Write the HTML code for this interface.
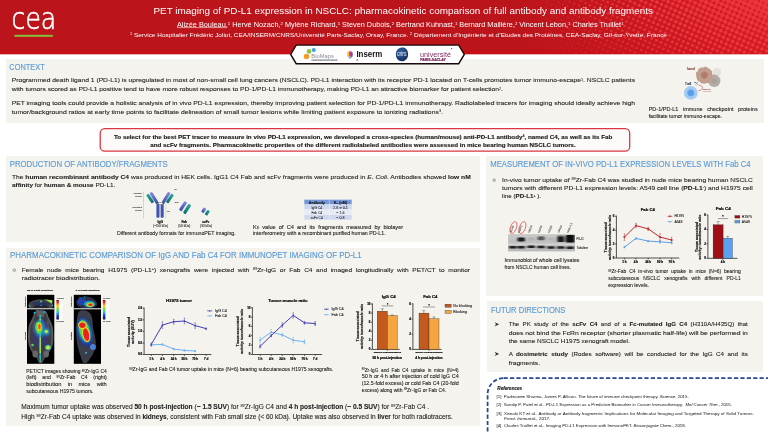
<!DOCTYPE html>
<html lang="en"><head><meta charset="utf-8">
<title>PET imaging of PD-L1 expression in NSCLC</title>
<style>
html,body{margin:0;padding:0;background:#fff;}
body{width:768px;height:432px;overflow:hidden;position:relative;font-family:'Liberation Sans',sans-serif;}
#poster{position:absolute;left:0;top:0;width:768px;height:432px;overflow:hidden;background:#fff;}
.hdr{position:absolute;left:0;top:0;width:768px;height:53.8px;background:#bc141b;}
.hdrline{position:absolute;left:0;top:53.8px;width:768px;height:1.1px;background:linear-gradient(#dc7a80,#fbeaea);}
.box{position:absolute;background:#f4f3ee;}
svg{position:absolute;left:0;top:0;font-family:'Liberation Sans',sans-serif;}
</style></head><body>
<div id="poster">
<header class="hdr"></header><div class="hdrline"></div>
<section class="box" id="context" style="left:6.3px;top:58.8px;width:757.5px;height:63.8px"></section>
<section class="box" id="production" style="left:6.3px;top:156.3px;width:474.0px;height:85.7px"></section>
<section class="box" id="measurement" style="left:486.0px;top:156.1px;width:277.2px;height:139.5px"></section>
<section class="box" id="pk" style="left:6.3px;top:247.9px;width:474.0px;height:177.9px"></section>
<section class="box" id="futur" style="left:486.8px;top:300.9px;width:276.4px;height:70.7px"></section>
<svg width="768" height="432" viewBox="0 0 768 432">
<defs>
<linearGradient id="hglow" x1="520" y1="30" x2="768" y2="0" gradientUnits="userSpaceOnUse">
<stop offset="0" stop-color="#d81c24" stop-opacity="0"/><stop offset="1" stop-color="#d81c24" stop-opacity="0.85"/></linearGradient>
<clipPath id="hclip"><rect x="0" y="0" width="768" height="53.8"/></clipPath>
</defs>
<rect x="0" y="50.4" width="768" height="3.4" fill="#c60f16"/>
<rect x="0" y="0" width="768" height="53.8" fill="url(#hglow)"/>
<g fill="#eb343c" clip-path="url(#hclip)"><circle cx="511.3" cy="-2.4" r="0.25" opacity="0.35"/><circle cx="509.2" cy="2.1" r="0.21" opacity="0.34"/><circle cx="507.2" cy="6.7" r="0.16" opacity="0.33"/><circle cx="515.8" cy="-0.4" r="0.33" opacity="0.37"/><circle cx="513.8" cy="4.2" r="0.28" opacity="0.36"/><circle cx="511.8" cy="8.7" r="0.23" opacity="0.35"/><circle cx="509.7" cy="13.3" r="0.17" opacity="0.33"/><circle cx="522.4" cy="-2.9" r="0.43" opacity="0.41"/><circle cx="520.4" cy="1.6" r="0.39" opacity="0.39"/><circle cx="518.4" cy="6.2" r="0.35" opacity="0.38"/><circle cx="516.3" cy="10.8" r="0.30" opacity="0.37"/><circle cx="514.3" cy="15.3" r="0.24" opacity="0.35"/><circle cx="512.3" cy="19.9" r="0.17" opacity="0.33"/><circle cx="527.0" cy="-0.9" r="0.49" opacity="0.43"/><circle cx="525.0" cy="3.7" r="0.45" opacity="0.41"/><circle cx="522.9" cy="8.2" r="0.41" opacity="0.40"/><circle cx="520.9" cy="12.8" r="0.36" opacity="0.38"/><circle cx="518.9" cy="17.4" r="0.30" opacity="0.37"/><circle cx="516.8" cy="21.9" r="0.24" opacity="0.35"/><circle cx="514.8" cy="26.5" r="0.15" opacity="0.33"/><circle cx="531.6" cy="1.1" r="0.55" opacity="0.45"/><circle cx="529.5" cy="5.7" r="0.51" opacity="0.43"/><circle cx="527.5" cy="10.3" r="0.47" opacity="0.42"/><circle cx="525.5" cy="14.8" r="0.42" opacity="0.40"/><circle cx="523.4" cy="19.4" r="0.36" opacity="0.38"/><circle cx="521.4" cy="24.0" r="0.29" opacity="0.36"/><circle cx="519.4" cy="28.5" r="0.21" opacity="0.34"/><circle cx="538.2" cy="-1.4" r="0.64" opacity="0.48"/><circle cx="536.1" cy="3.2" r="0.60" opacity="0.47"/><circle cx="534.1" cy="7.7" r="0.56" opacity="0.45"/><circle cx="532.1" cy="12.3" r="0.52" opacity="0.44"/><circle cx="530.0" cy="16.9" r="0.47" opacity="0.42"/><circle cx="528.0" cy="21.4" r="0.41" opacity="0.40"/><circle cx="526.0" cy="26.0" r="0.34" opacity="0.38"/><circle cx="523.9" cy="30.6" r="0.27" opacity="0.36"/><circle cx="521.9" cy="35.1" r="0.18" opacity="0.33"/><circle cx="542.7" cy="0.6" r="0.69" opacity="0.50"/><circle cx="540.7" cy="5.2" r="0.65" opacity="0.49"/><circle cx="538.7" cy="9.8" r="0.62" opacity="0.47"/><circle cx="536.6" cy="14.3" r="0.57" opacity="0.46"/><circle cx="534.6" cy="18.9" r="0.52" opacity="0.44"/><circle cx="532.6" cy="23.5" r="0.46" opacity="0.42"/><circle cx="530.5" cy="28.0" r="0.39" opacity="0.39"/><circle cx="528.5" cy="32.6" r="0.32" opacity="0.37"/><circle cx="526.5" cy="37.2" r="0.23" opacity="0.35"/><circle cx="549.3" cy="-1.9" r="0.77" opacity="0.53"/><circle cx="547.3" cy="2.7" r="0.74" opacity="0.52"/><circle cx="545.3" cy="7.2" r="0.70" opacity="0.51"/><circle cx="543.2" cy="11.8" r="0.66" opacity="0.49"/><circle cx="541.2" cy="16.4" r="0.62" opacity="0.47"/><circle cx="539.2" cy="20.9" r="0.56" opacity="0.45"/><circle cx="537.1" cy="25.5" r="0.50" opacity="0.43"/><circle cx="535.1" cy="30.1" r="0.44" opacity="0.41"/><circle cx="533.1" cy="34.6" r="0.36" opacity="0.38"/><circle cx="531.0" cy="39.2" r="0.27" opacity="0.36"/><circle cx="529.0" cy="43.8" r="0.17" opacity="0.33"/><circle cx="553.9" cy="0.1" r="0.82" opacity="0.55"/><circle cx="551.9" cy="4.7" r="0.79" opacity="0.54"/><circle cx="549.8" cy="9.3" r="0.75" opacity="0.53"/><circle cx="547.8" cy="13.8" r="0.71" opacity="0.51"/><circle cx="545.8" cy="18.4" r="0.66" opacity="0.49"/><circle cx="543.7" cy="23.0" r="0.61" opacity="0.47"/><circle cx="541.7" cy="27.5" r="0.54" opacity="0.45"/><circle cx="539.7" cy="32.1" r="0.48" opacity="0.42"/><circle cx="537.6" cy="36.7" r="0.40" opacity="0.40"/><circle cx="535.6" cy="41.2" r="0.31" opacity="0.37"/><circle cx="533.6" cy="45.8" r="0.21" opacity="0.34"/><circle cx="560.5" cy="-2.4" r="0.90" opacity="0.59"/><circle cx="558.5" cy="2.2" r="0.87" opacity="0.57"/><circle cx="556.4" cy="6.7" r="0.84" opacity="0.56"/><circle cx="554.4" cy="11.3" r="0.80" opacity="0.54"/><circle cx="552.4" cy="15.9" r="0.75" opacity="0.53"/><circle cx="550.3" cy="20.4" r="0.70" opacity="0.51"/><circle cx="548.3" cy="25.0" r="0.65" opacity="0.48"/><circle cx="546.3" cy="29.6" r="0.58" opacity="0.46"/><circle cx="544.2" cy="34.1" r="0.51" opacity="0.44"/><circle cx="542.2" cy="38.7" r="0.44" opacity="0.41"/><circle cx="540.2" cy="43.3" r="0.35" opacity="0.38"/><circle cx="538.1" cy="47.8" r="0.25" opacity="0.35"/><circle cx="565.1" cy="-0.4" r="0.95" opacity="0.61"/><circle cx="563.0" cy="4.2" r="0.92" opacity="0.59"/><circle cx="561.0" cy="8.8" r="0.88" opacity="0.58"/><circle cx="559.0" cy="13.3" r="0.84" opacity="0.56"/><circle cx="556.9" cy="17.9" r="0.79" opacity="0.54"/><circle cx="554.9" cy="22.5" r="0.74" opacity="0.52"/><circle cx="552.9" cy="27.0" r="0.68" opacity="0.50"/><circle cx="550.8" cy="31.6" r="0.62" opacity="0.47"/><circle cx="548.8" cy="36.2" r="0.55" opacity="0.45"/><circle cx="546.8" cy="40.7" r="0.47" opacity="0.42"/><circle cx="544.7" cy="45.3" r="0.39" opacity="0.39"/><circle cx="542.7" cy="49.9" r="0.29" opacity="0.36"/><circle cx="540.7" cy="54.4" r="0.17" opacity="0.33"/><circle cx="571.7" cy="-2.9" r="1.02" opacity="0.64"/><circle cx="569.6" cy="1.7" r="0.99" opacity="0.63"/><circle cx="567.6" cy="6.2" r="0.96" opacity="0.61"/><circle cx="565.6" cy="10.8" r="0.92" opacity="0.60"/><circle cx="563.5" cy="15.4" r="0.88" opacity="0.58"/><circle cx="561.5" cy="19.9" r="0.83" opacity="0.56"/><circle cx="559.5" cy="24.5" r="0.78" opacity="0.54"/><circle cx="557.4" cy="29.1" r="0.72" opacity="0.51"/><circle cx="555.4" cy="33.6" r="0.65" opacity="0.49"/><circle cx="553.4" cy="38.2" r="0.58" opacity="0.46"/><circle cx="551.3" cy="42.8" r="0.50" opacity="0.43"/><circle cx="549.3" cy="47.3" r="0.42" opacity="0.40"/><circle cx="547.3" cy="51.9" r="0.32" opacity="0.37"/><circle cx="576.2" cy="-0.9" r="1.07" opacity="0.66"/><circle cx="574.2" cy="3.7" r="1.04" opacity="0.65"/><circle cx="572.2" cy="8.3" r="1.00" opacity="0.63"/><circle cx="570.1" cy="12.8" r="0.96" opacity="0.61"/><circle cx="568.1" cy="17.4" r="0.92" opacity="0.59"/><circle cx="566.1" cy="22.0" r="0.87" opacity="0.57"/><circle cx="564.0" cy="26.5" r="0.81" opacity="0.55"/><circle cx="562.0" cy="31.1" r="0.75" opacity="0.53"/><circle cx="560.0" cy="35.7" r="0.69" opacity="0.50"/><circle cx="557.9" cy="40.2" r="0.61" opacity="0.47"/><circle cx="555.9" cy="44.8" r="0.53" opacity="0.44"/><circle cx="553.9" cy="49.4" r="0.44" opacity="0.41"/><circle cx="551.8" cy="53.9" r="0.35" opacity="0.38"/><circle cx="580.8" cy="1.2" r="1.11" opacity="0.68"/><circle cx="578.8" cy="5.7" r="1.08" opacity="0.67"/><circle cx="576.7" cy="10.3" r="1.05" opacity="0.65"/><circle cx="574.7" cy="14.9" r="1.00" opacity="0.63"/><circle cx="572.7" cy="19.4" r="0.96" opacity="0.61"/><circle cx="570.6" cy="24.0" r="0.90" opacity="0.59"/><circle cx="568.6" cy="28.6" r="0.85" opacity="0.56"/><circle cx="566.6" cy="33.1" r="0.78" opacity="0.54"/><circle cx="564.5" cy="37.7" r="0.71" opacity="0.51"/><circle cx="562.5" cy="42.3" r="0.64" opacity="0.48"/><circle cx="560.5" cy="46.8" r="0.56" opacity="0.45"/><circle cx="558.4" cy="51.4" r="0.47" opacity="0.42"/><circle cx="556.4" cy="56.0" r="0.37" opacity="0.39"/><circle cx="587.4" cy="-1.4" r="1.18" opacity="0.71"/><circle cx="585.4" cy="3.2" r="1.16" opacity="0.70"/><circle cx="583.3" cy="7.8" r="1.12" opacity="0.68"/><circle cx="581.3" cy="12.3" r="1.08" opacity="0.67"/><circle cx="579.3" cy="16.9" r="1.04" opacity="0.65"/><circle cx="577.2" cy="21.5" r="0.99" opacity="0.63"/><circle cx="575.2" cy="26.0" r="0.94" opacity="0.60"/><circle cx="573.2" cy="30.6" r="0.88" opacity="0.58"/><circle cx="571.1" cy="35.2" r="0.81" opacity="0.55"/><circle cx="569.1" cy="39.7" r="0.74" opacity="0.52"/><circle cx="567.1" cy="44.3" r="0.67" opacity="0.49"/><circle cx="565.0" cy="48.9" r="0.58" opacity="0.46"/><circle cx="563.0" cy="53.4" r="0.49" opacity="0.43"/><circle cx="592.0" cy="0.7" r="1.23" opacity="0.73"/><circle cx="590.0" cy="5.2" r="1.20" opacity="0.72"/><circle cx="587.9" cy="9.8" r="1.16" opacity="0.70"/><circle cx="585.9" cy="14.4" r="1.12" opacity="0.68"/><circle cx="583.8" cy="18.9" r="1.07" opacity="0.66"/><circle cx="581.8" cy="23.5" r="1.02" opacity="0.64"/><circle cx="579.8" cy="28.1" r="0.97" opacity="0.62"/><circle cx="577.7" cy="32.6" r="0.91" opacity="0.59"/><circle cx="575.7" cy="37.2" r="0.84" opacity="0.56"/><circle cx="573.7" cy="41.8" r="0.77" opacity="0.53"/><circle cx="571.6" cy="46.3" r="0.69" opacity="0.50"/><circle cx="569.6" cy="50.9" r="0.60" opacity="0.47"/><circle cx="567.6" cy="55.5" r="0.51" opacity="0.44"/><circle cx="598.6" cy="-1.9" r="1.30" opacity="0.77"/><circle cx="596.6" cy="2.7" r="1.27" opacity="0.75"/><circle cx="594.5" cy="7.3" r="1.24" opacity="0.74"/><circle cx="592.5" cy="11.8" r="1.20" opacity="0.72"/><circle cx="590.5" cy="16.4" r="1.16" opacity="0.70"/><circle cx="588.4" cy="21.0" r="1.11" opacity="0.68"/><circle cx="586.4" cy="25.5" r="1.05" opacity="0.65"/><circle cx="584.4" cy="30.1" r="1.00" opacity="0.63"/><circle cx="582.3" cy="34.7" r="0.93" opacity="0.60"/><circle cx="580.3" cy="39.2" r="0.86" opacity="0.57"/><circle cx="578.2" cy="43.8" r="0.79" opacity="0.54"/><circle cx="576.2" cy="48.4" r="0.71" opacity="0.51"/><circle cx="574.2" cy="52.9" r="0.62" opacity="0.48"/><circle cx="603.2" cy="0.2" r="1.34" opacity="0.79"/><circle cx="601.1" cy="4.7" r="1.31" opacity="0.77"/><circle cx="599.1" cy="9.3" r="1.27" opacity="0.76"/><circle cx="597.1" cy="13.9" r="1.23" opacity="0.74"/><circle cx="595.0" cy="18.4" r="1.19" opacity="0.71"/><circle cx="593.0" cy="23.0" r="1.14" opacity="0.69"/><circle cx="591.0" cy="27.6" r="1.08" opacity="0.67"/><circle cx="588.9" cy="32.1" r="1.02" opacity="0.64"/><circle cx="586.9" cy="36.7" r="0.96" opacity="0.61"/><circle cx="584.9" cy="41.3" r="0.89" opacity="0.58"/><circle cx="582.8" cy="45.8" r="0.81" opacity="0.55"/><circle cx="580.8" cy="50.4" r="0.73" opacity="0.52"/><circle cx="578.7" cy="55.0" r="0.64" opacity="0.48"/><circle cx="609.8" cy="-2.4" r="1.40" opacity="0.82"/><circle cx="607.7" cy="2.2" r="1.38" opacity="0.81"/><circle cx="605.7" cy="6.8" r="1.35" opacity="0.79"/><circle cx="603.7" cy="11.3" r="1.31" opacity="0.77"/><circle cx="601.6" cy="15.9" r="1.27" opacity="0.75"/><circle cx="599.6" cy="20.5" r="1.22" opacity="0.73"/><circle cx="597.6" cy="25.0" r="1.17" opacity="0.70"/><circle cx="595.5" cy="29.6" r="1.11" opacity="0.68"/><circle cx="593.5" cy="34.2" r="1.05" opacity="0.65"/><circle cx="591.5" cy="38.7" r="0.98" opacity="0.62"/><circle cx="589.4" cy="43.3" r="0.91" opacity="0.59"/><circle cx="587.4" cy="47.9" r="0.83" opacity="0.56"/><circle cx="585.4" cy="52.4" r="0.75" opacity="0.52"/><circle cx="614.3" cy="-0.3" r="1.45" opacity="0.84"/><circle cx="612.3" cy="4.2" r="1.42" opacity="0.82"/><circle cx="610.3" cy="8.8" r="1.38" opacity="0.81"/><circle cx="608.2" cy="13.4" r="1.34" opacity="0.79"/><circle cx="606.2" cy="17.9" r="1.30" opacity="0.77"/><circle cx="604.2" cy="22.5" r="1.25" opacity="0.74"/><circle cx="602.1" cy="27.1" r="1.19" opacity="0.72"/><circle cx="600.1" cy="31.6" r="1.13" opacity="0.69"/><circle cx="598.1" cy="36.2" r="1.07" opacity="0.66"/><circle cx="596.0" cy="40.8" r="1.00" opacity="0.63"/><circle cx="594.0" cy="45.3" r="0.92" opacity="0.60"/><circle cx="592.0" cy="49.9" r="0.85" opacity="0.56"/><circle cx="589.9" cy="54.5" r="0.76" opacity="0.53"/><circle cx="620.9" cy="-2.9" r="1.51" opacity="0.87"/><circle cx="618.9" cy="1.7" r="1.49" opacity="0.86"/><circle cx="616.9" cy="6.3" r="1.46" opacity="0.84"/><circle cx="614.8" cy="10.8" r="1.42" opacity="0.83"/><circle cx="612.8" cy="15.4" r="1.38" opacity="0.80"/><circle cx="610.8" cy="20.0" r="1.33" opacity="0.78"/><circle cx="608.7" cy="24.5" r="1.28" opacity="0.76"/><circle cx="606.7" cy="29.1" r="1.22" opacity="0.73"/><circle cx="604.7" cy="33.7" r="1.16" opacity="0.70"/><circle cx="602.6" cy="38.2" r="1.09" opacity="0.67"/><circle cx="600.6" cy="42.8" r="1.02" opacity="0.64"/><circle cx="598.6" cy="47.4" r="0.94" opacity="0.60"/><circle cx="596.5" cy="51.9" r="0.86" opacity="0.57"/><circle cx="625.5" cy="-0.8" r="1.55" opacity="0.89"/><circle cx="623.5" cy="3.7" r="1.52" opacity="0.88"/><circle cx="621.4" cy="8.3" r="1.49" opacity="0.86"/><circle cx="619.4" cy="12.9" r="1.45" opacity="0.84"/><circle cx="617.4" cy="17.4" r="1.41" opacity="0.82"/><circle cx="615.3" cy="22.0" r="1.36" opacity="0.79"/><circle cx="613.3" cy="26.6" r="1.30" opacity="0.77"/><circle cx="611.3" cy="31.1" r="1.24" opacity="0.74"/><circle cx="609.2" cy="35.7" r="1.18" opacity="0.71"/><circle cx="607.2" cy="40.3" r="1.11" opacity="0.68"/><circle cx="605.2" cy="44.8" r="1.03" opacity="0.64"/><circle cx="603.1" cy="49.4" r="0.96" opacity="0.61"/><circle cx="601.1" cy="54.0" r="0.87" opacity="0.57"/><circle cx="630.1" cy="1.2" r="1.59" opacity="0.91"/><circle cx="628.0" cy="5.8" r="1.56" opacity="0.90"/><circle cx="626.0" cy="10.3" r="1.52" opacity="0.88"/><circle cx="624.0" cy="14.9" r="1.48" opacity="0.86"/><circle cx="621.9" cy="19.5" r="1.43" opacity="0.83"/><circle cx="619.9" cy="24.0" r="1.38" opacity="0.81"/><circle cx="617.9" cy="28.6" r="1.32" opacity="0.78"/><circle cx="615.8" cy="33.2" r="1.26" opacity="0.75"/><circle cx="613.8" cy="37.7" r="1.20" opacity="0.72"/><circle cx="611.8" cy="42.3" r="1.12" opacity="0.68"/><circle cx="609.7" cy="46.9" r="1.05" opacity="0.65"/><circle cx="607.7" cy="51.4" r="0.97" opacity="0.62"/><circle cx="636.7" cy="-1.3" r="1.66" opacity="0.94"/><circle cx="634.6" cy="3.2" r="1.63" opacity="0.93"/><circle cx="632.6" cy="7.8" r="1.59" opacity="0.91"/><circle cx="630.6" cy="12.4" r="1.56" opacity="0.89"/><circle cx="628.5" cy="16.9" r="1.51" opacity="0.87"/><circle cx="626.5" cy="21.5" r="1.46" opacity="0.85"/><circle cx="624.5" cy="26.1" r="1.41" opacity="0.82"/><circle cx="622.4" cy="30.6" r="1.35" opacity="0.79"/><circle cx="620.4" cy="35.2" r="1.28" opacity="0.76"/><circle cx="618.4" cy="39.8" r="1.21" opacity="0.73"/><circle cx="616.3" cy="44.3" r="1.14" opacity="0.69"/><circle cx="614.3" cy="48.9" r="1.06" opacity="0.66"/><circle cx="612.3" cy="53.5" r="0.98" opacity="0.62"/><circle cx="641.2" cy="0.7" r="1.69" opacity="0.96"/><circle cx="639.2" cy="5.3" r="1.66" opacity="0.95"/><circle cx="637.2" cy="9.8" r="1.63" opacity="0.93"/><circle cx="635.1" cy="14.4" r="1.58" opacity="0.91"/><circle cx="633.1" cy="19.0" r="1.54" opacity="0.88"/><circle cx="631.1" cy="23.5" r="1.48" opacity="0.86"/><circle cx="629.0" cy="28.1" r="1.43" opacity="0.83"/><circle cx="627.0" cy="32.7" r="1.36" opacity="0.80"/><circle cx="625.0" cy="37.2" r="1.30" opacity="0.77"/><circle cx="622.9" cy="41.8" r="1.23" opacity="0.73"/><circle cx="620.9" cy="46.4" r="1.15" opacity="0.70"/><circle cx="618.9" cy="50.9" r="1.07" opacity="0.66"/><circle cx="616.8" cy="55.5" r="0.98" opacity="0.62"/><circle cx="647.8" cy="-1.8" r="1.76" opacity="1.00"/><circle cx="645.8" cy="2.7" r="1.73" opacity="0.98"/><circle cx="643.8" cy="7.3" r="1.70" opacity="0.97"/><circle cx="641.7" cy="11.9" r="1.66" opacity="0.95"/><circle cx="639.7" cy="16.4" r="1.61" opacity="0.92"/><circle cx="637.7" cy="21.0" r="1.56" opacity="0.90"/><circle cx="635.6" cy="25.6" r="1.51" opacity="0.87"/><circle cx="633.6" cy="30.1" r="1.45" opacity="0.84"/><circle cx="631.6" cy="34.7" r="1.38" opacity="0.81"/><circle cx="629.5" cy="39.3" r="1.31" opacity="0.77"/><circle cx="627.5" cy="43.8" r="1.24" opacity="0.74"/><circle cx="625.5" cy="48.4" r="1.16" opacity="0.70"/><circle cx="623.4" cy="53.0" r="1.08" opacity="0.66"/><circle cx="652.4" cy="0.2" r="1.79" opacity="1.00"/><circle cx="650.4" cy="4.8" r="1.76" opacity="1.00"/><circle cx="648.3" cy="9.3" r="1.73" opacity="0.98"/><circle cx="646.3" cy="13.9" r="1.69" opacity="0.96"/><circle cx="644.3" cy="18.5" r="1.64" opacity="0.94"/><circle cx="642.2" cy="23.0" r="1.58" opacity="0.91"/><circle cx="640.2" cy="27.6" r="1.52" opacity="0.88"/><circle cx="638.2" cy="32.2" r="1.46" opacity="0.85"/><circle cx="636.1" cy="36.7" r="1.39" opacity="0.81"/><circle cx="634.1" cy="41.3" r="1.32" opacity="0.78"/><circle cx="632.1" cy="45.9" r="1.25" opacity="0.74"/><circle cx="630.0" cy="50.4" r="1.17" opacity="0.70"/><circle cx="628.0" cy="55.0" r="1.08" opacity="0.67"/><circle cx="659.0" cy="-2.3" r="1.86" opacity="1.00"/><circle cx="657.0" cy="2.2" r="1.83" opacity="1.00"/><circle cx="654.9" cy="6.8" r="1.80" opacity="1.00"/><circle cx="652.9" cy="11.4" r="1.76" opacity="1.00"/><circle cx="650.9" cy="15.9" r="1.71" opacity="0.97"/><circle cx="648.8" cy="20.5" r="1.66" opacity="0.95"/><circle cx="646.8" cy="25.1" r="1.60" opacity="0.92"/><circle cx="644.8" cy="29.6" r="1.54" opacity="0.89"/><circle cx="642.7" cy="34.2" r="1.48" opacity="0.85"/><circle cx="640.7" cy="38.8" r="1.41" opacity="0.82"/><circle cx="638.7" cy="43.3" r="1.33" opacity="0.78"/><circle cx="636.6" cy="47.9" r="1.25" opacity="0.75"/><circle cx="634.6" cy="52.5" r="1.17" opacity="0.71"/><circle cx="663.6" cy="-0.3" r="1.89" opacity="1.00"/><circle cx="661.5" cy="4.3" r="1.86" opacity="1.00"/><circle cx="659.5" cy="8.8" r="1.83" opacity="1.00"/><circle cx="657.5" cy="13.4" r="1.78" opacity="1.00"/><circle cx="655.4" cy="18.0" r="1.73" opacity="0.99"/><circle cx="653.4" cy="22.5" r="1.68" opacity="0.96"/><circle cx="651.4" cy="27.1" r="1.62" opacity="0.93"/><circle cx="649.3" cy="31.7" r="1.56" opacity="0.89"/><circle cx="647.3" cy="36.2" r="1.49" opacity="0.86"/><circle cx="645.3" cy="40.8" r="1.42" opacity="0.82"/><circle cx="643.2" cy="45.4" r="1.34" opacity="0.79"/><circle cx="641.2" cy="49.9" r="1.26" opacity="0.75"/><circle cx="639.2" cy="54.5" r="1.17" opacity="0.71"/><circle cx="670.2" cy="-2.8" r="1.95" opacity="1.00"/><circle cx="668.1" cy="1.7" r="1.93" opacity="1.00"/><circle cx="666.1" cy="6.3" r="1.89" opacity="1.00"/><circle cx="664.1" cy="10.9" r="1.85" opacity="1.00"/><circle cx="662.0" cy="15.4" r="1.81" opacity="1.00"/><circle cx="660.0" cy="20.0" r="1.76" opacity="1.00"/><circle cx="658.0" cy="24.6" r="1.70" opacity="0.97"/><circle cx="655.9" cy="29.1" r="1.64" opacity="0.93"/><circle cx="653.9" cy="33.7" r="1.57" opacity="0.90"/><circle cx="651.9" cy="38.3" r="1.50" opacity="0.86"/><circle cx="649.8" cy="42.8" r="1.42" opacity="0.83"/><circle cx="647.8" cy="47.4" r="1.34" opacity="0.79"/><circle cx="645.8" cy="52.0" r="1.26" opacity="0.75"/><circle cx="674.7" cy="-0.8" r="1.99" opacity="1.00"/><circle cx="672.7" cy="3.8" r="1.96" opacity="1.00"/><circle cx="670.7" cy="8.3" r="1.92" opacity="1.00"/><circle cx="668.6" cy="12.9" r="1.88" opacity="1.00"/><circle cx="666.6" cy="17.5" r="1.83" opacity="1.00"/><circle cx="664.6" cy="22.0" r="1.77" opacity="1.00"/><circle cx="662.5" cy="26.6" r="1.71" opacity="0.97"/><circle cx="660.5" cy="31.2" r="1.65" opacity="0.94"/><circle cx="658.5" cy="35.7" r="1.58" opacity="0.91"/><circle cx="656.4" cy="40.3" r="1.50" opacity="0.87"/><circle cx="654.4" cy="44.9" r="1.43" opacity="0.83"/><circle cx="652.4" cy="49.4" r="1.35" opacity="0.79"/><circle cx="650.3" cy="54.0" r="1.26" opacity="0.75"/><circle cx="679.3" cy="1.2" r="2.02" opacity="1.00"/><circle cx="677.3" cy="5.8" r="1.99" opacity="1.00"/><circle cx="675.2" cy="10.4" r="1.95" opacity="1.00"/><circle cx="673.2" cy="14.9" r="1.90" opacity="1.00"/><circle cx="671.2" cy="19.5" r="1.85" opacity="1.00"/><circle cx="669.1" cy="24.1" r="1.79" opacity="1.00"/><circle cx="667.1" cy="28.6" r="1.73" opacity="0.98"/><circle cx="665.1" cy="33.2" r="1.66" opacity="0.95"/><circle cx="663.0" cy="37.8" r="1.58" opacity="0.91"/><circle cx="661.0" cy="42.3" r="1.51" opacity="0.87"/><circle cx="659.0" cy="46.9" r="1.43" opacity="0.83"/><circle cx="656.9" cy="51.5" r="1.35" opacity="0.79"/><circle cx="685.9" cy="-1.3" r="2.08" opacity="1.00"/><circle cx="683.9" cy="3.3" r="2.06" opacity="1.00"/><circle cx="681.8" cy="7.8" r="2.02" opacity="1.00"/><circle cx="679.8" cy="12.4" r="1.97" opacity="1.00"/><circle cx="677.8" cy="17.0" r="1.92" opacity="1.00"/><circle cx="675.7" cy="21.5" r="1.86" opacity="1.00"/><circle cx="673.7" cy="26.1" r="1.80" opacity="1.00"/><circle cx="671.7" cy="30.7" r="1.73" opacity="0.99"/><circle cx="669.6" cy="35.2" r="1.66" opacity="0.95"/><circle cx="667.6" cy="39.8" r="1.59" opacity="0.91"/><circle cx="665.6" cy="44.4" r="1.51" opacity="0.87"/><circle cx="663.5" cy="48.9" r="1.43" opacity="0.83"/><circle cx="661.5" cy="53.5" r="1.34" opacity="0.79"/><circle cx="690.5" cy="0.7" r="2.12" opacity="1.00"/><circle cx="688.4" cy="5.3" r="2.08" opacity="1.00"/><circle cx="686.4" cy="9.9" r="2.04" opacity="1.00"/><circle cx="684.4" cy="14.4" r="1.99" opacity="1.00"/><circle cx="682.3" cy="19.0" r="1.94" opacity="1.00"/><circle cx="680.3" cy="23.6" r="1.88" opacity="1.00"/><circle cx="678.3" cy="28.1" r="1.81" opacity="1.00"/><circle cx="676.2" cy="32.7" r="1.74" opacity="0.99"/><circle cx="674.2" cy="37.3" r="1.67" opacity="0.95"/><circle cx="672.2" cy="41.8" r="1.59" opacity="0.91"/><circle cx="670.1" cy="46.4" r="1.51" opacity="0.87"/><circle cx="668.1" cy="51.0" r="1.43" opacity="0.83"/><circle cx="666.1" cy="55.5" r="1.34" opacity="0.79"/><circle cx="697.1" cy="-1.8" r="2.18" opacity="1.00"/><circle cx="695.0" cy="2.8" r="2.15" opacity="1.00"/><circle cx="693.0" cy="7.3" r="2.11" opacity="1.00"/><circle cx="691.0" cy="11.9" r="2.06" opacity="1.00"/><circle cx="688.9" cy="16.5" r="2.01" opacity="1.00"/><circle cx="686.9" cy="21.0" r="1.95" opacity="1.00"/><circle cx="684.9" cy="25.6" r="1.89" opacity="1.00"/><circle cx="682.8" cy="30.2" r="1.82" opacity="1.00"/><circle cx="680.8" cy="34.7" r="1.75" opacity="0.99"/><circle cx="678.8" cy="39.3" r="1.67" opacity="0.95"/><circle cx="676.7" cy="43.9" r="1.59" opacity="0.91"/><circle cx="674.7" cy="48.4" r="1.51" opacity="0.87"/><circle cx="672.7" cy="53.0" r="1.42" opacity="0.83"/><circle cx="701.6" cy="0.2" r="2.21" opacity="1.00"/><circle cx="699.6" cy="4.8" r="2.18" opacity="1.00"/><circle cx="697.6" cy="9.4" r="2.13" opacity="1.00"/><circle cx="695.5" cy="13.9" r="2.08" opacity="1.00"/><circle cx="693.5" cy="18.5" r="2.02" opacity="1.00"/><circle cx="691.5" cy="23.1" r="1.96" opacity="1.00"/><circle cx="689.4" cy="27.6" r="1.89" opacity="1.00"/><circle cx="687.4" cy="32.2" r="1.82" opacity="1.00"/><circle cx="685.4" cy="36.8" r="1.75" opacity="0.99"/><circle cx="683.3" cy="41.3" r="1.67" opacity="0.95"/><circle cx="681.3" cy="45.9" r="1.59" opacity="0.91"/><circle cx="679.3" cy="50.5" r="1.50" opacity="0.87"/><circle cx="677.2" cy="55.0" r="1.41" opacity="0.82"/><circle cx="708.2" cy="-2.3" r="2.27" opacity="1.00"/><circle cx="706.2" cy="2.3" r="2.24" opacity="1.00"/><circle cx="704.2" cy="6.8" r="2.20" opacity="1.00"/><circle cx="702.1" cy="11.4" r="2.15" opacity="1.00"/><circle cx="700.1" cy="16.0" r="2.10" opacity="1.00"/><circle cx="698.1" cy="20.5" r="2.04" opacity="1.00"/><circle cx="696.0" cy="25.1" r="1.97" opacity="1.00"/><circle cx="694.0" cy="29.7" r="1.90" opacity="1.00"/><circle cx="692.0" cy="34.2" r="1.82" opacity="1.00"/><circle cx="689.9" cy="38.8" r="1.75" opacity="0.99"/><circle cx="687.9" cy="43.4" r="1.66" opacity="0.95"/><circle cx="685.9" cy="47.9" r="1.58" opacity="0.91"/><circle cx="683.8" cy="52.5" r="1.49" opacity="0.86"/><circle cx="712.8" cy="-0.3" r="2.30" opacity="1.00"/><circle cx="710.8" cy="4.3" r="2.27" opacity="1.00"/><circle cx="708.7" cy="8.9" r="2.22" opacity="1.00"/><circle cx="706.7" cy="13.4" r="2.17" opacity="1.00"/><circle cx="704.7" cy="18.0" r="2.11" opacity="1.00"/><circle cx="702.6" cy="22.6" r="2.04" opacity="1.00"/><circle cx="700.6" cy="27.1" r="1.97" opacity="1.00"/><circle cx="698.6" cy="31.7" r="1.90" opacity="1.00"/><circle cx="696.5" cy="36.3" r="1.82" opacity="1.00"/><circle cx="694.5" cy="40.8" r="1.74" opacity="0.99"/><circle cx="692.5" cy="45.4" r="1.66" opacity="0.95"/><circle cx="690.4" cy="50.0" r="1.57" opacity="0.90"/><circle cx="688.4" cy="54.5" r="1.48" opacity="0.86"/><circle cx="719.4" cy="-2.8" r="2.36" opacity="1.00"/><circle cx="717.4" cy="1.8" r="2.33" opacity="1.00"/><circle cx="715.3" cy="6.3" r="2.29" opacity="1.00"/><circle cx="713.3" cy="10.9" r="2.24" opacity="1.00"/><circle cx="711.3" cy="15.5" r="2.18" opacity="1.00"/><circle cx="709.2" cy="20.0" r="2.12" opacity="1.00"/><circle cx="707.2" cy="24.6" r="2.05" opacity="1.00"/><circle cx="705.2" cy="29.2" r="1.97" opacity="1.00"/><circle cx="703.1" cy="33.7" r="1.90" opacity="1.00"/><circle cx="701.1" cy="38.3" r="1.82" opacity="1.00"/><circle cx="699.1" cy="42.9" r="1.73" opacity="0.99"/><circle cx="697.0" cy="47.4" r="1.65" opacity="0.94"/><circle cx="695.0" cy="52.0" r="1.56" opacity="0.90"/><circle cx="724.0" cy="-0.8" r="2.39" opacity="1.00"/><circle cx="721.9" cy="3.8" r="2.36" opacity="1.00"/><circle cx="719.9" cy="8.4" r="2.31" opacity="1.00"/><circle cx="717.9" cy="12.9" r="2.25" opacity="1.00"/><circle cx="715.8" cy="17.5" r="2.19" opacity="1.00"/><circle cx="713.8" cy="22.1" r="2.12" opacity="1.00"/><circle cx="711.8" cy="26.6" r="2.05" opacity="1.00"/><circle cx="709.7" cy="31.2" r="1.97" opacity="1.00"/><circle cx="707.7" cy="35.8" r="1.89" opacity="1.00"/><circle cx="705.7" cy="40.3" r="1.81" opacity="1.00"/><circle cx="703.6" cy="44.9" r="1.72" opacity="0.98"/><circle cx="701.6" cy="49.5" r="1.64" opacity="0.94"/><circle cx="699.6" cy="54.0" r="1.55" opacity="0.89"/><circle cx="728.5" cy="1.3" r="2.42" opacity="1.00"/><circle cx="726.5" cy="5.8" r="2.38" opacity="1.00"/><circle cx="724.5" cy="10.4" r="2.32" opacity="1.00"/><circle cx="722.4" cy="15.0" r="2.26" opacity="1.00"/><circle cx="720.4" cy="19.5" r="2.19" opacity="1.00"/><circle cx="718.4" cy="24.1" r="2.12" opacity="1.00"/><circle cx="716.3" cy="28.7" r="2.04" opacity="1.00"/><circle cx="714.3" cy="33.2" r="1.96" opacity="1.00"/><circle cx="712.3" cy="37.8" r="1.88" opacity="1.00"/><circle cx="710.2" cy="42.4" r="1.80" opacity="1.00"/><circle cx="708.2" cy="46.9" r="1.71" opacity="0.97"/><circle cx="706.2" cy="51.5" r="1.62" opacity="0.93"/><circle cx="735.1" cy="-1.3" r="2.48" opacity="1.00"/><circle cx="733.1" cy="3.3" r="2.44" opacity="1.00"/><circle cx="731.1" cy="7.9" r="2.39" opacity="1.00"/><circle cx="729.0" cy="12.4" r="2.33" opacity="1.00"/><circle cx="727.0" cy="17.0" r="2.26" opacity="1.00"/><circle cx="725.0" cy="21.6" r="2.19" opacity="1.00"/><circle cx="722.9" cy="26.1" r="2.11" opacity="1.00"/><circle cx="720.9" cy="30.7" r="2.03" opacity="1.00"/><circle cx="718.9" cy="35.3" r="1.95" opacity="1.00"/><circle cx="716.8" cy="39.8" r="1.87" opacity="1.00"/><circle cx="714.8" cy="44.4" r="1.78" opacity="1.00"/><circle cx="712.8" cy="49.0" r="1.70" opacity="0.97"/><circle cx="710.7" cy="53.5" r="1.61" opacity="0.92"/><circle cx="739.7" cy="0.8" r="2.51" opacity="1.00"/><circle cx="737.7" cy="5.3" r="2.46" opacity="1.00"/><circle cx="735.6" cy="9.9" r="2.40" opacity="1.00"/><circle cx="733.6" cy="14.5" r="2.33" opacity="1.00"/><circle cx="731.6" cy="19.0" r="2.26" opacity="1.00"/><circle cx="729.5" cy="23.6" r="2.18" opacity="1.00"/><circle cx="727.5" cy="28.2" r="2.10" opacity="1.00"/><circle cx="725.5" cy="32.7" r="2.02" opacity="1.00"/><circle cx="723.4" cy="37.3" r="1.94" opacity="1.00"/><circle cx="721.4" cy="41.9" r="1.85" opacity="1.00"/><circle cx="719.4" cy="46.4" r="1.77" opacity="1.00"/><circle cx="717.3" cy="51.0" r="1.68" opacity="0.96"/><circle cx="715.3" cy="55.6" r="1.59" opacity="0.91"/><circle cx="746.3" cy="-1.8" r="2.57" opacity="1.00"/><circle cx="744.3" cy="2.8" r="2.53" opacity="1.00"/><circle cx="742.3" cy="7.4" r="2.47" opacity="1.00"/><circle cx="740.2" cy="11.9" r="2.40" opacity="1.00"/><circle cx="738.2" cy="16.5" r="2.33" opacity="1.00"/><circle cx="736.2" cy="21.1" r="2.25" opacity="1.00"/><circle cx="734.1" cy="25.6" r="2.17" opacity="1.00"/><circle cx="732.1" cy="30.2" r="2.09" opacity="1.00"/><circle cx="730.0" cy="34.8" r="2.01" opacity="1.00"/><circle cx="728.0" cy="39.3" r="1.92" opacity="1.00"/><circle cx="726.0" cy="43.9" r="1.84" opacity="1.00"/><circle cx="723.9" cy="48.5" r="1.75" opacity="0.99"/><circle cx="721.9" cy="53.0" r="1.66" opacity="0.95"/><circle cx="750.9" cy="0.3" r="2.59" opacity="1.00"/><circle cx="748.9" cy="4.8" r="2.54" opacity="1.00"/><circle cx="746.8" cy="9.4" r="2.47" opacity="1.00"/><circle cx="744.8" cy="14.0" r="2.40" opacity="1.00"/><circle cx="742.8" cy="18.5" r="2.32" opacity="1.00"/><circle cx="740.7" cy="23.1" r="2.24" opacity="1.00"/><circle cx="738.7" cy="27.7" r="2.16" opacity="1.00"/><circle cx="736.7" cy="32.2" r="2.08" opacity="1.00"/><circle cx="734.6" cy="36.8" r="1.99" opacity="1.00"/><circle cx="732.6" cy="41.4" r="1.90" opacity="1.00"/><circle cx="730.5" cy="45.9" r="1.82" opacity="1.00"/><circle cx="728.5" cy="50.5" r="1.73" opacity="0.98"/><circle cx="726.5" cy="55.1" r="1.63" opacity="0.93"/><circle cx="757.5" cy="-2.3" r="2.66" opacity="1.00"/><circle cx="755.5" cy="2.3" r="2.60" opacity="1.00"/><circle cx="753.4" cy="6.9" r="2.54" opacity="1.00"/><circle cx="751.4" cy="11.4" r="2.46" opacity="1.00"/><circle cx="749.4" cy="16.0" r="2.39" opacity="1.00"/><circle cx="747.3" cy="20.6" r="2.31" opacity="1.00"/><circle cx="745.3" cy="25.1" r="2.22" opacity="1.00"/><circle cx="743.3" cy="29.7" r="2.14" opacity="1.00"/><circle cx="741.2" cy="34.3" r="2.06" opacity="1.00"/><circle cx="739.2" cy="38.8" r="1.97" opacity="1.00"/><circle cx="737.2" cy="43.4" r="1.88" opacity="1.00"/><circle cx="735.1" cy="48.0" r="1.79" opacity="1.00"/><circle cx="733.1" cy="52.5" r="1.70" opacity="0.97"/><circle cx="762.1" cy="-0.2" r="2.67" opacity="1.00"/><circle cx="760.0" cy="4.3" r="2.60" opacity="1.00"/><circle cx="758.0" cy="8.9" r="2.53" opacity="1.00"/><circle cx="756.0" cy="13.5" r="2.45" opacity="1.00"/><circle cx="753.9" cy="18.0" r="2.37" opacity="1.00"/><circle cx="751.9" cy="22.6" r="2.29" opacity="1.00"/><circle cx="749.9" cy="27.2" r="2.20" opacity="1.00"/><circle cx="747.8" cy="31.7" r="2.12" opacity="1.00"/><circle cx="745.8" cy="36.3" r="2.03" opacity="1.00"/><circle cx="743.8" cy="40.9" r="1.95" opacity="1.00"/><circle cx="741.7" cy="45.4" r="1.86" opacity="1.00"/><circle cx="739.7" cy="50.0" r="1.77" opacity="1.00"/><circle cx="737.7" cy="54.6" r="1.68" opacity="0.96"/><circle cx="768.7" cy="-2.8" r="2.74" opacity="1.00"/><circle cx="766.6" cy="1.8" r="2.67" opacity="1.00"/><circle cx="764.6" cy="6.4" r="2.59" opacity="1.00"/><circle cx="762.6" cy="10.9" r="2.51" opacity="1.00"/><circle cx="760.5" cy="15.5" r="2.43" opacity="1.00"/><circle cx="758.5" cy="20.1" r="2.35" opacity="1.00"/><circle cx="756.5" cy="24.6" r="2.26" opacity="1.00"/><circle cx="754.4" cy="29.2" r="2.18" opacity="1.00"/><circle cx="752.4" cy="33.8" r="2.09" opacity="1.00"/><circle cx="750.4" cy="38.3" r="2.01" opacity="1.00"/><circle cx="748.3" cy="42.9" r="1.92" opacity="1.00"/><circle cx="746.3" cy="47.5" r="1.83" opacity="1.00"/><circle cx="744.3" cy="52.0" r="1.74" opacity="0.99"/><circle cx="771.2" cy="3.8" r="2.65" opacity="1.00"/><circle cx="769.2" cy="8.4" r="2.57" opacity="1.00"/><circle cx="767.1" cy="13.0" r="2.49" opacity="1.00"/><circle cx="765.1" cy="17.5" r="2.40" opacity="1.00"/><circle cx="763.1" cy="22.1" r="2.32" opacity="1.00"/><circle cx="761.0" cy="26.7" r="2.24" opacity="1.00"/><circle cx="759.0" cy="31.2" r="2.15" opacity="1.00"/><circle cx="757.0" cy="35.8" r="2.07" opacity="1.00"/><circle cx="754.9" cy="40.4" r="1.98" opacity="1.00"/><circle cx="752.9" cy="44.9" r="1.89" opacity="1.00"/><circle cx="750.9" cy="49.5" r="1.80" opacity="1.00"/><circle cx="748.8" cy="54.1" r="1.71" opacity="0.97"/><circle cx="771.7" cy="15.0" r="2.46" opacity="1.00"/><circle cx="769.7" cy="19.6" r="2.37" opacity="1.00"/><circle cx="767.6" cy="24.1" r="2.29" opacity="1.00"/><circle cx="765.6" cy="28.7" r="2.21" opacity="1.00"/><circle cx="763.6" cy="33.3" r="2.12" opacity="1.00"/><circle cx="761.5" cy="37.8" r="2.04" opacity="1.00"/><circle cx="759.5" cy="42.4" r="1.95" opacity="1.00"/><circle cx="757.5" cy="47.0" r="1.86" opacity="1.00"/><circle cx="755.4" cy="51.5" r="1.77" opacity="1.00"/><circle cx="770.2" cy="30.7" r="2.17" opacity="1.00"/><circle cx="768.1" cy="35.3" r="2.09" opacity="1.00"/><circle cx="766.1" cy="39.9" r="2.00" opacity="1.00"/><circle cx="764.1" cy="44.4" r="1.91" opacity="1.00"/><circle cx="762.0" cy="49.0" r="1.83" opacity="1.00"/><circle cx="760.0" cy="53.6" r="1.73" opacity="0.99"/><circle cx="770.7" cy="41.9" r="1.97" opacity="1.00"/><circle cx="768.6" cy="46.5" r="1.88" opacity="1.00"/><circle cx="766.6" cy="51.0" r="1.79" opacity="1.00"/><circle cx="764.6" cy="55.6" r="1.70" opacity="0.97"/><circle cx="771.2" cy="53.1" r="1.75" opacity="1.00"/></g>
<text x="11.60" y="28.70" font-size="30.60" fill="#ffffff" font-weight="200" font-family="'DejaVu Sans', sans-serif" textLength="44.60" lengthAdjust="spacingAndGlyphs" stroke="#fff" stroke-width="0.65" stroke-linejoin="round" xml:space="preserve">cea</text>
<rect x="14.4" y="34.8" width="38.4" height="2.0" fill="#84bd3c"/>
<text x="153.50" y="13.80" font-size="9.90" fill="#fff" textLength="499.50" lengthAdjust="spacingAndGlyphs" xml:space="preserve">PET imaging of PD-L1 expression in NSCLC: pharmacokinetic comparison of full antibody and antibody fragments</text>
<text x="177.00" y="26.80" font-size="7.30" fill="#fff" textLength="446.50" lengthAdjust="spacingAndGlyphs" xml:space="preserve">Alizée Bouleau,<tspan font-size="4.23" stroke-width="0.04" dy="-2.19">1</tspan><tspan dy="2.19"> Hervé Nozach,</tspan><tspan font-size="4.23" stroke-width="0.04" dy="-2.19">2</tspan><tspan dy="2.19"> Mylène Richard,</tspan><tspan font-size="4.23" stroke-width="0.04" dy="-2.19">1</tspan><tspan dy="2.19"> Steven Dubois,</tspan><tspan font-size="4.23" stroke-width="0.04" dy="-2.19">2</tspan><tspan dy="2.19"> Bertrand Kuhnast,</tspan><tspan font-size="4.23" stroke-width="0.04" dy="-2.19">1</tspan><tspan dy="2.19"> Bernard Maillère,</tspan><tspan font-size="4.23" stroke-width="0.04" dy="-2.19">2</tspan><tspan dy="2.19"> Vincent Lebon,</tspan><tspan font-size="4.23" stroke-width="0.04" dy="-2.19">1</tspan><tspan dy="2.19"> Charles Truillet</tspan><tspan font-size="4.23" stroke-width="0.04" dy="-2.19">1</tspan></text>
<rect x="177" y="27.5" width="49.6" height="0.55" fill="#fff"/>
<text x="130.00" y="36.60" font-size="5.60" fill="#fff" textLength="537.00" lengthAdjust="spacingAndGlyphs" xml:space="preserve"><tspan font-size="3.25" stroke-width="0.04" dy="-1.68">1</tspan><tspan dy="1.68"> Service Hospitalier Frédéric Joliot, CEA/INSERM/CNRS/Université Paris-Saclay, Orsay, France. </tspan><tspan font-size="3.25" stroke-width="0.04" dy="-1.68">2</tspan><tspan dy="1.68"> Département d’Ingénierie et d’Etudes des Protéines, CEA-Saclay, Gif-sur-Yvette, France</tspan></text>
<text x="9.30" y="70.30" font-size="8.60" fill="#5b9bd5" textLength="35.40" lengthAdjust="spacingAndGlyphs" stroke="#5b9bd5" stroke-width="0.13" xml:space="preserve">CONTEXT</text>
<text x="11.70" y="82.30" font-size="6.00" fill="#1c1c1c" textLength="623.30" lengthAdjust="spacingAndGlyphs" stroke="#1c1c1c" stroke-width="0.09" xml:space="preserve">Programmed death ligand 1 (PD-L1) is upregulated in most of non-small cell lung cancers (NSCLC). PD-L1 interaction with its receptor PD-1 located on T-cells promotes tumor immuno-escape<tspan font-size="3.48" stroke-width="0.04" dy="-1.80">1</tspan><tspan dy="1.80">. NSCLC patients</tspan></text>
<text x="11.70" y="91.30" font-size="6.00" fill="#1c1c1c" textLength="491.30" lengthAdjust="spacingAndGlyphs" stroke="#1c1c1c" stroke-width="0.09" xml:space="preserve">with tumors scored as PD-L1 positive tend to have more robust responses to PD-1/PD-L1 immunotherapy, making PD-L1 an attractive biomarker for patient selection<tspan font-size="3.48" stroke-width="0.04" dy="-1.80">2</tspan><tspan dy="1.80">.</tspan></text>
<text x="11.70" y="104.70" font-size="6.00" fill="#1c1c1c" textLength="623.30" lengthAdjust="spacingAndGlyphs" stroke="#1c1c1c" stroke-width="0.09" xml:space="preserve">PET imaging tools could provide a holistic analysis of in vivo PD-L1 expression, thereby improving patient selection for PD-1/PD-L1 immunotherapy. Radiolabeled tracers for imaging should ideally achieve high</text>
<text x="11.70" y="113.70" font-size="6.00" fill="#1c1c1c" textLength="431.30" lengthAdjust="spacingAndGlyphs" stroke="#1c1c1c" stroke-width="0.09" xml:space="preserve">tumor/background ratios at early time points to facilitate delineation of small tumor lesions while limiting patient exposure to ionizing radiations<tspan font-size="3.48" stroke-width="0.04" dy="-1.80">3</tspan><tspan dy="1.80">.</tspan></text>
<text x="648.70" y="110.60" font-size="5.00" fill="#1c1c1c" textLength="109.00" lengthAdjust="spacingAndGlyphs" stroke="#1c1c1c" stroke-width="0.09" xml:space="preserve">PD-1/PD-L1   immune   checkpoint   proteins</text>
<text x="648.70" y="117.60" font-size="5.00" fill="#1c1c1c" textLength="73.30" lengthAdjust="spacingAndGlyphs" stroke="#1c1c1c" stroke-width="0.09" xml:space="preserve">facilitate tumor immuno-escape.</text>
<rect x="100.2" y="128.7" width="529.5" height="22.5" rx="4.5" ry="4.5" fill="#fef9f9" stroke="#d93842" stroke-width="1.3"/>
<text x="114.00" y="138.70" font-size="6.00" fill="#1a1a1a" font-weight="bold" textLength="498.30" lengthAdjust="spacingAndGlyphs" stroke="#1a1a1a" stroke-width="0.14" xml:space="preserve">To select for the best PET tracer to measure in vivo PD-L1 expression, we developed a cross-species (human/mouse) anti-PD-L1 antibody<tspan font-size="3.48" stroke-width="0.04" dy="-1.80">4</tspan><tspan dy="1.80">, named C4, as well as its Fab</tspan></text>
<text x="150.20" y="147.40" font-size="6.00" fill="#1a1a1a" font-weight="bold" textLength="425.60" lengthAdjust="spacingAndGlyphs" stroke="#1a1a1a" stroke-width="0.14" xml:space="preserve">and scFv fragments. Pharmacokinetic properties of the different radiolabeled antibodies were assessed in mice bearing human NSCLC tumors.</text>
<text x="9.70" y="167.40" font-size="8.60" fill="#5b9bd5" textLength="158.00" lengthAdjust="spacingAndGlyphs" stroke="#5b9bd5" stroke-width="0.13" xml:space="preserve">PRODUCTION OF ANTIBODY/FRAGMENTS</text>
<text x="12.00" y="179.00" font-size="6.00" fill="#1c1c1c" textLength="458.70" lengthAdjust="spacingAndGlyphs" stroke="#1c1c1c" stroke-width="0.09" xml:space="preserve">The <tspan font-weight="bold">human recombinant antibody C4</tspan> was produced in HEK cells. IgG1 C4 Fab and scFv fragments were produced in <tspan font-style="italic">E. Coli</tspan>. Antibodies showed <tspan font-weight="bold">low nM</tspan></text>
<text x="12.00" y="187.20" font-size="6.00" fill="#1c1c1c" textLength="103.30" lengthAdjust="spacingAndGlyphs" stroke="#1c1c1c" stroke-width="0.09" xml:space="preserve"><tspan font-weight="bold">affinity</tspan> for <tspan font-weight="bold">human &amp; mouse</tspan> PD-L1.</text>
<text x="116.90" y="235.20" font-size="5.20" fill="#1c1c1c" textLength="118.80" lengthAdjust="spacingAndGlyphs" stroke="#1c1c1c" stroke-width="0.09" xml:space="preserve">Different antibody formats for immunoPET imaging.</text>
<text x="252.90" y="228.60" font-size="5.00" fill="#1c1c1c" textLength="150.30" lengthAdjust="spacingAndGlyphs" stroke="#1c1c1c" stroke-width="0.09" xml:space="preserve">K<tspan font-size="3.10" dy="0.80">D</tspan><tspan dy="-0.80">  value  of  C4  and  its  fragments  measured  by  biolayer</tspan></text>
<text x="252.90" y="235.00" font-size="5.00" fill="#1c1c1c" textLength="132.80" lengthAdjust="spacingAndGlyphs" stroke="#1c1c1c" stroke-width="0.09" xml:space="preserve">interferometry with a recombinant purified human PD-L1.</text>
<text x="490.30" y="167.40" font-size="8.60" fill="#5b9bd5" textLength="260.30" lengthAdjust="spacingAndGlyphs" stroke="#5b9bd5" stroke-width="0.13" xml:space="preserve">MEASUREMENT OF IN-VIVO PD-L1 EXPRESSION LEVELS WITH Fab C4</text>
<circle cx="494.2" cy="180.2" r="1.25" fill="none" stroke="#333" stroke-width="0.45"/>
<text x="502.10" y="181.60" font-size="6.00" fill="#1c1c1c" textLength="250.60" lengthAdjust="spacingAndGlyphs" stroke="#1c1c1c" stroke-width="0.09" xml:space="preserve">In-vivo tumor uptake of <tspan font-size="3.48" stroke-width="0.04" dy="-1.80">89</tspan><tspan dy="1.80">Zr-Fab C4 was studied in nude mice bearing human NSCLC</tspan></text>
<text x="502.10" y="189.80" font-size="6.00" fill="#1c1c1c" textLength="250.60" lengthAdjust="spacingAndGlyphs" stroke="#1c1c1c" stroke-width="0.09" xml:space="preserve">tumors with different PD-L1 expression levels: A549 cell line (<tspan font-weight="bold">PD-L1</tspan><tspan font-weight="bold" font-size="3.48" stroke-width="0.04" dy="-1.80">-</tspan><tspan dy="1.80">) and H1975 cell</tspan></text>
<text x="502.10" y="198.40" font-size="6.00" fill="#1c1c1c" textLength="38.90" lengthAdjust="spacingAndGlyphs" stroke="#1c1c1c" stroke-width="0.09" xml:space="preserve">line (<tspan font-weight="bold">PD-L1</tspan><tspan font-weight="bold" font-size="3.48" stroke-width="0.04" dy="-1.80">+</tspan><tspan dy="1.80"> ).</tspan></text>
<text x="504.40" y="261.80" font-size="5.20" fill="#1c1c1c" textLength="75.00" lengthAdjust="spacingAndGlyphs" stroke="#1c1c1c" stroke-width="0.09" xml:space="preserve">Immunoblot of whole cell lysates</text>
<text x="504.40" y="268.50" font-size="5.20" fill="#1c1c1c" textLength="66.40" lengthAdjust="spacingAndGlyphs" stroke="#1c1c1c" stroke-width="0.09" xml:space="preserve">from NSCLC human cell lines.</text>
<text x="608.20" y="273.10" font-size="5.20" fill="#1c1c1c" textLength="132.50" lengthAdjust="spacingAndGlyphs" stroke="#1c1c1c" stroke-width="0.09" xml:space="preserve"><tspan font-size="3.02" stroke-width="0.04" dy="-1.56">89</tspan><tspan dy="1.56">Zr-Fab  C4  in-vivo  tumor  uptake  in  mice  (N=6)  bearing</tspan></text>
<text x="608.20" y="280.00" font-size="5.20" fill="#1c1c1c" textLength="132.50" lengthAdjust="spacingAndGlyphs" stroke="#1c1c1c" stroke-width="0.09" xml:space="preserve">subcutaneous   NSCLC   xenografts   with   different   PD-L1</text>
<text x="608.20" y="286.70" font-size="5.20" fill="#1c1c1c" textLength="40.70" lengthAdjust="spacingAndGlyphs" stroke="#1c1c1c" stroke-width="0.09" xml:space="preserve">expression levels.</text>
<text x="10.00" y="258.20" font-size="8.60" fill="#5b9bd5" textLength="351.70" lengthAdjust="spacingAndGlyphs" stroke="#5b9bd5" stroke-width="0.13" xml:space="preserve">PHARMACOKINETIC COMPARISON OF IgG AND Fab C4 FOR IMMUNOPET IMAGING OF PD-L1</text>
<circle cx="14.3" cy="270.2" r="1.25" fill="none" stroke="#333" stroke-width="0.45"/>
<text x="21.70" y="271.50" font-size="6.00" fill="#1c1c1c" textLength="448.30" lengthAdjust="spacingAndGlyphs" stroke="#1c1c1c" stroke-width="0.09" xml:space="preserve">Female  nude  mice  bearing  H1975  (PD-L1<tspan font-size="3.48" stroke-width="0.04" dy="-1.80">+</tspan><tspan dy="1.80">)  xenografts  were  injected  with  </tspan><tspan font-size="3.48" stroke-width="0.04" dy="-1.80">89</tspan><tspan dy="1.80">Zr-IgG  or  Fab  C4  and  imaged  longitudinally  with  PET/CT  to  monitor</tspan></text>
<text x="21.70" y="279.50" font-size="6.00" fill="#1c1c1c" textLength="78.30" lengthAdjust="spacingAndGlyphs" stroke="#1c1c1c" stroke-width="0.09" xml:space="preserve">radiotracer biodistribution.</text>
<text x="26.30" y="373.00" font-size="5.00" fill="#1c1c1c" textLength="80.50" lengthAdjust="spacingAndGlyphs" stroke="#1c1c1c" stroke-width="0.09" xml:space="preserve">PET/CT images showing <tspan font-size="2.90" stroke-width="0.04" dy="-1.50">89</tspan><tspan dy="1.50">Zr-IgG C4</tspan></text>
<text x="26.30" y="379.40" font-size="5.00" fill="#1c1c1c" textLength="80.50" lengthAdjust="spacingAndGlyphs" stroke="#1c1c1c" stroke-width="0.09" xml:space="preserve">(left)    and    <tspan font-size="2.90" stroke-width="0.04" dy="-1.50">89</tspan><tspan dy="1.50">Zr-Fab    C4    (right)</tspan></text>
<text x="26.30" y="386.10" font-size="5.00" fill="#1c1c1c" textLength="80.50" lengthAdjust="spacingAndGlyphs" stroke="#1c1c1c" stroke-width="0.09" xml:space="preserve">biodistribution    in    mice    with</text>
<text x="26.30" y="392.70" font-size="5.00" fill="#1c1c1c" textLength="67.20" lengthAdjust="spacingAndGlyphs" stroke="#1c1c1c" stroke-width="0.09" xml:space="preserve">subcutaneous H1975 tumors.</text>
<text x="129.30" y="371.30" font-size="5.00" fill="#1c1c1c" textLength="204.00" lengthAdjust="spacingAndGlyphs" stroke="#1c1c1c" stroke-width="0.09" xml:space="preserve"><tspan font-size="2.90" stroke-width="0.04" dy="-1.50">89</tspan><tspan dy="1.50">Zr-IgG and Fab C4 tumor uptake in mice (N=6) bearing subcutaneous H1975 xenografts.</tspan></text>
<text x="361.70" y="371.70" font-size="5.00" fill="#1c1c1c" textLength="97.00" lengthAdjust="spacingAndGlyphs" stroke="#1c1c1c" stroke-width="0.09" xml:space="preserve"><tspan font-size="2.90" stroke-width="0.04" dy="-1.50">89</tspan><tspan dy="1.50">Zr-IgG  and  Fab  C4  uptake  in  mice  (N=4)</tspan></text>
<text x="361.70" y="378.30" font-size="5.00" fill="#1c1c1c" textLength="97.00" lengthAdjust="spacingAndGlyphs" stroke="#1c1c1c" stroke-width="0.09" xml:space="preserve">50 h or 4 h after injection of cold IgG C4</text>
<text x="361.70" y="385.00" font-size="5.00" fill="#1c1c1c" textLength="97.00" lengthAdjust="spacingAndGlyphs" stroke="#1c1c1c" stroke-width="0.09" xml:space="preserve">(12.5-fold excess) or cold Fab C4 (20-fold</text>
<text x="361.70" y="391.70" font-size="5.00" fill="#1c1c1c" textLength="84.50" lengthAdjust="spacingAndGlyphs" stroke="#1c1c1c" stroke-width="0.09" xml:space="preserve">excess) along with <tspan font-size="2.90" stroke-width="0.04" dy="-1.50">89</tspan><tspan dy="1.50">Zr-IgG or Fab C4.</tspan></text>
<text x="21.30" y="409.20" font-size="6.30" fill="#1c1c1c" textLength="407.70" lengthAdjust="spacingAndGlyphs" stroke="#1c1c1c" stroke-width="0.09" xml:space="preserve">Maximum tumor uptake was observed <tspan font-weight="bold">50 h post-injection</tspan> (<tspan font-weight="bold">~ 1.5 SUV</tspan>) for <tspan font-size="3.65" stroke-width="0.04" dy="-1.89">89</tspan><tspan dy="1.89">Zr-IgG C4 and </tspan><tspan font-weight="bold">4 h post-injection</tspan> (<tspan font-weight="bold">~ 0.5 SUV</tspan>) for <tspan font-size="3.65" stroke-width="0.04" dy="-1.89">89</tspan><tspan dy="1.89">Zr-Fab C4 .</tspan></text>
<text x="21.30" y="418.80" font-size="6.30" fill="#1c1c1c" textLength="431.50" lengthAdjust="spacingAndGlyphs" stroke="#1c1c1c" stroke-width="0.09" xml:space="preserve">High <tspan font-size="3.65" stroke-width="0.04" dy="-1.89">89</tspan><tspan dy="1.89">Zr-Fab C4 uptake was observed in </tspan><tspan font-weight="bold">kidneys</tspan>, consistent with Fab small size (&lt; 60 kDa). Uptake was also observed in <tspan font-weight="bold">liver</tspan> for both radiotracers.</text>
<text x="490.90" y="313.30" font-size="8.60" fill="#5b9bd5" textLength="74.50" lengthAdjust="spacingAndGlyphs" stroke="#5b9bd5" stroke-width="0.13" xml:space="preserve">FUTUR DIRECTIONS</text>
<path d="M494.6 322.2 l4.6 2.1 l-4.6 2.1 l1.4 -2.1 z" fill="#333"/>
<path d="M494.6 351.8 l4.6 2.1 l-4.6 2.1 l1.4 -2.1 z" fill="#333"/>
<text x="508.70" y="326.40" font-size="6.00" fill="#1c1c1c" textLength="239.10" lengthAdjust="spacingAndGlyphs" stroke="#1c1c1c" stroke-width="0.09" xml:space="preserve">The  PK  study  of  the  <tspan font-weight="bold">scFv  C4</tspan>  and  of  a  <tspan font-weight="bold">Fc-mutated  IgG  C4</tspan>  (H310A/H435Q)  that</text>
<text x="508.70" y="334.90" font-size="6.00" fill="#1c1c1c" textLength="239.10" lengthAdjust="spacingAndGlyphs" stroke="#1c1c1c" stroke-width="0.09" xml:space="preserve">does not bind the FcRn receptor (shorter plasmatic half-life) will be performed in</text>
<text x="508.70" y="343.40" font-size="6.00" fill="#1c1c1c" textLength="121.10" lengthAdjust="spacingAndGlyphs" stroke="#1c1c1c" stroke-width="0.09" xml:space="preserve">the same NSCLC H1975 xenograft model.</text>
<text x="508.70" y="356.00" font-size="6.00" fill="#1c1c1c" textLength="239.10" lengthAdjust="spacingAndGlyphs" stroke="#1c1c1c" stroke-width="0.09" xml:space="preserve">A  <tspan font-weight="bold">dosimetric  study</tspan>  (Rodes  software)  will  be  conducted  for  the  IgG  C4  and  its</text>
<text x="508.70" y="364.50" font-size="6.00" fill="#1c1c1c" textLength="31.30" lengthAdjust="spacingAndGlyphs" stroke="#1c1c1c" stroke-width="0.09" xml:space="preserve">fragments.</text>
<rect x="487.6" y="378.2" width="320" height="90" rx="16" ry="16" fill="none" stroke="#27488c" stroke-width="1.75" stroke-dasharray="4.2 2.2"/>
<text x="497.30" y="389.70" font-size="4.60" fill="#1a1a1a" font-weight="bold" font-style="italic" textLength="24.90" lengthAdjust="spacingAndGlyphs" stroke="#1a1a1a" stroke-width="0.14" xml:space="preserve">References</text>
<text x="496.50" y="397.80" font-size="3.90" fill="#333" textLength="192.20" lengthAdjust="spacingAndGlyphs" stroke="#333" stroke-width="0.03" xml:space="preserve">[1]  Padmanee Sharma, James P. Allison. The future of immune checkpoint therapy. <tspan font-style="italic">Science</tspan>, 2015.</text>
<text x="496.50" y="406.00" font-size="3.90" fill="#333" textLength="235.40" lengthAdjust="spacingAndGlyphs" stroke="#333" stroke-width="0.03" xml:space="preserve">[2]  Sandip P. Patel et al.. PD-L1 Expression as a Predictive Biomarker in Cancer Immunotherapy.  <tspan font-style="italic">Mol Cancer Ther.</tspan>, 2015.</text>
<text x="496.50" y="414.50" font-size="3.90" fill="#333" textLength="257.30" lengthAdjust="spacingAndGlyphs" stroke="#333" stroke-width="0.03" xml:space="preserve">[3]  Xenaki KT et al.. Antibody or Antibody fragments: Implications for Molecular Imaging and Targeted Therapy of Solid Tumors.</text>
<text x="504.00" y="420.30" font-size="3.90" fill="#333" textLength="46.40" lengthAdjust="spacingAndGlyphs" stroke="#333" stroke-width="0.03" xml:space="preserve"><tspan font-style="italic">Front. Immunol.</tspan>, 2017.</text>
<text x="496.50" y="427.00" font-size="3.90" fill="#333" textLength="189.40" lengthAdjust="spacingAndGlyphs" stroke="#333" stroke-width="0.03" xml:space="preserve">[4]  Charles Truillet et al.. Imaging PD-L1 Expression with ImmunoPET. <tspan font-style="italic">Bioconjugate Chem.</tspan>, 2018.</text>
<path d="M296.2 45.1 L458.7 45.1 L464.3 54.4 L458.7 63.7 L296.2 63.7 L290.7 54.4 Z" fill="#fff" stroke="#160808" stroke-width="1.4" stroke-linejoin="miter"/>
<circle cx="306.5" cy="56.5" r="2.7" fill="#f59a23"/>
<circle cx="309.0" cy="51.4" r="2.3" fill="#8cc63f"/>
<circle cx="313.8" cy="49.9" r="2.0" fill="#3aa5dc"/>
<text x="311.30" y="58.30" font-size="6.20" fill="#858b98" textLength="22.50" lengthAdjust="spacingAndGlyphs" xml:space="preserve">BioMaps</text>
<rect x="311.3" y="59.0" width="26.3" height="0.45" fill="#6d7382"/>
<text x="311.60" y="60.90" font-size="1.70" fill="#777" textLength="25.80" lengthAdjust="spacingAndGlyphs" stroke="#777" stroke-width="0.10" xml:space="preserve">Laboratoire d'Imagerie Biomédicale Multimodale</text>
<ellipse cx="350.0" cy="54.6" rx="2.9" ry="4.0" fill="#f6c4d4"/>
<ellipse cx="348.4" cy="54.2" rx="1.1" ry="2.6" fill="#f3c431"/>
<ellipse cx="350.1" cy="54.0" rx="1.0" ry="3.0" fill="#d8357f"/>
<ellipse cx="351.7" cy="54.4" rx="1.0" ry="2.6" fill="#6a4fb0"/>
<ellipse cx="350.3" cy="57.6" rx="1.2" ry="0.9" fill="#3fb2e4"/>
<text x="356.40" y="57.20" font-size="8.20" fill="#111" font-weight="bold" textLength="25.80" lengthAdjust="spacingAndGlyphs" xml:space="preserve">Inserm</text>
<circle cx="357.2" cy="59.9" r="0.8" fill="#e8452c"/>
<defs><radialGradient id="cn" cx="0.4" cy="0.35" r="0.7"><stop offset="0" stop-color="#3a68a8"/><stop offset="1" stop-color="#102a55"/></radialGradient></defs>
<path d="M401.8 47.6 c3.6 -0.4 6.2 2.2 6.3 6.3 c0.1 4.2 -2.6 7.2 -6.2 7.3 c-3.5 0.1 -6.1 -2.8 -6.0 -6.9 c0.1 -3.8 2.4 -6.4 5.9 -6.7 z" fill="url(#cn)"/>
<text x="397.00" y="56.20" font-size="6.40" fill="#dfe8f5" textLength="9.60" lengthAdjust="spacingAndGlyphs" xml:space="preserve">cnrs</text>
<text x="420.10" y="56.50" font-size="7.60" fill="#7d2a5e" textLength="30.90" lengthAdjust="spacingAndGlyphs" xml:space="preserve">université</text>
<text x="420.30" y="60.50" font-size="3.00" fill="#7d2a5e" font-weight="bold" textLength="25.50" lengthAdjust="spacingAndGlyphs" stroke="#7d2a5e" stroke-width="0.22" xml:space="preserve">PARIS-SACLAY</text>
<circle cx="451.6" cy="48.6" r="0.7" fill="#c2185b"/>
<defs><filter id="b1" x="-20%" y="-20%" width="140%" height="140%"><feGaussianBlur stdDeviation="0.55"/></filter>
<radialGradient id="tum"><stop offset="0" stop-color="#ab7764"/><stop offset="0.40" stop-color="#b58472"/><stop offset="0.47" stop-color="#c39f90"/><stop offset="1" stop-color="#c09a8b"/></radialGradient>
<radialGradient id="tc"><stop offset="0" stop-color="#4f97e8"/><stop offset="0.45" stop-color="#62a3ea"/><stop offset="0.54" stop-color="#9cc6f2"/><stop offset="1" stop-color="#a9cef4"/></radialGradient>
</defs>
<g filter="url(#b1)">
<circle cx="716.8" cy="72.2" r="4.2" fill="#e3e1dd"/>
<circle cx="714.2" cy="80.8" r="6.2" fill="#b3aca6"/>
<circle cx="714.4" cy="81.0" r="2.8" fill="#a8a19b"/>
<polygon points="712.9,75.3 713.0,76.4 712.5,77.5 712.0,78.5 711.5,79.4 710.8,80.2 710.1,81.0 709.7,82.1 708.8,82.9 707.5,82.9 706.4,82.9 705.5,83.4 704.4,83.7 703.3,83.6 702.2,83.5 701.1,83.2 700.4,82.3 699.6,81.5 698.5,81.2 697.5,80.6 697.1,79.5 696.9,78.4 696.5,77.4 696.3,76.4 696.3,75.3 696.0,74.2 695.9,73.0 696.7,72.1 697.6,71.4 698.0,70.4 698.4,69.3 699.2,68.6 700.2,68.0 701.2,67.5 702.3,67.4 703.4,67.5 704.4,67.1 705.5,66.6 706.6,67.0 707.5,67.8 708.4,68.3 709.4,68.8 710.2,69.5 711.0,70.2 711.9,71.0 712.2,72.1 712.0,73.3 712.2,74.3" fill="url(#tum)"/>
<circle cx="690.8" cy="92.9" r="6.9" fill="url(#tc)"/>
</g>
<path d="M698.8 85.3 c2.4 0.1 3.7 1.2 3.7 2.7 c0 1.5 -1.5 2.6 -4.3 2.7" fill="none" stroke="#b5525a" stroke-width="0.6"/>
<path d="M695.6 84.6 l1.6 -1.6 M697.0 85.4 l1.2 -1.3" stroke="#3d4f6e" stroke-width="0.6"/>
<text x="687.00" y="70.30" font-size="2.80" fill="#8a5646" font-weight="bold" textLength="7.90" lengthAdjust="spacingAndGlyphs" stroke="#8a5646" stroke-width="0.22" xml:space="preserve">Tumor cell</text>
<text x="685.20" y="85.10" font-size="2.80" fill="#34466a" font-weight="bold" textLength="5.90" lengthAdjust="spacingAndGlyphs" stroke="#34466a" stroke-width="0.22" xml:space="preserve">T cell</text>
<text x="702.70" y="90.20" font-size="2.10" fill="#a8474e" textLength="8.00" lengthAdjust="spacingAndGlyphs" stroke="#a8474e" stroke-width="0.10" xml:space="preserve">PD-L1</text>
<rect x="702.7" y="91.2" width="8.8" height="0.35" fill="#b5525a"/>
<text x="694.00" y="82.60" font-size="1.60" fill="#4a5f86" textLength="3.60" lengthAdjust="spacingAndGlyphs" stroke="#4a5f86" stroke-width="0.10" xml:space="preserve">PD-1</text>
<defs>
<linearGradient id="hv" x1="0" y1="0" x2="0" y2="1"><stop offset="0" stop-color="#8d8ae0"/><stop offset="0.55" stop-color="#5566c4"/><stop offset="1" stop-color="#3a50aa"/></linearGradient>
<linearGradient id="lt" x1="0" y1="0" x2="0" y2="1"><stop offset="0" stop-color="#27a898"/><stop offset="1" stop-color="#126f6b"/></linearGradient>
<filter id="b2" x="-20%" y="-20%" width="140%" height="140%"><feGaussianBlur stdDeviation="0.3"/></filter>
</defs>
<g filter="url(#b2)">
<rect x="156.4" y="203.4" width="3.1" height="14.4" rx="1.1" fill="#3f55ae"/>
<rect x="160.6" y="203.4" width="3.1" height="14.4" rx="1.1" fill="#3f55ae"/>
<rect x="152.55" y="191.40" width="3.10" height="13.21" rx="1.03" fill="url(#hv)" transform="rotate(-32.0 154.10 198.00)"/>
<rect x="164.40" y="191.42" width="3.10" height="13.15" rx="1.03" fill="url(#hv)" transform="rotate(31.6 165.95 198.00)"/>
<rect x="148.60" y="193.52" width="3.10" height="10.15" rx="1.03" fill="url(#lt)" transform="rotate(-34.2 150.15 198.60)"/>
<rect x="168.30" y="193.52" width="3.10" height="10.15" rx="1.03" fill="url(#lt)" transform="rotate(34.2 169.85 198.60)"/>
<rect x="181.50" y="200.93" width="3.20" height="10.54" rx="1.07" fill="url(#hv)" transform="rotate(33.4 183.10 206.20)"/>
<rect x="185.50" y="203.56" width="3.20" height="10.88" rx="1.07" fill="url(#lt)" transform="rotate(32.2 187.10 209.00)"/>
<rect x="202.20" y="207.54" width="3.00" height="5.33" rx="1.00" fill="url(#hv)" transform="rotate(34.3 203.70 210.20)"/>
<rect x="205.80" y="209.95" width="3.00" height="5.49" rx="1.00" fill="url(#lt)" transform="rotate(33.1 207.30 212.70)"/>
</g>
<rect x="158.5" y="202.3" width="4.0" height="2.2" fill="#f3f2ee" stroke="#5a5a66" stroke-width="0.4"/>
<path d="M144.4 191.8 h-0.9 v26.0 h0.9 M143.5 200.3 h0.9" fill="none" stroke="#8a8a8a" stroke-width="0.3"/>
<path d="M165.0 204.6 h0.9 v13.0 h-0.9" fill="none" stroke="#9a9a9a" stroke-width="0.3"/>
<text x="133.20" y="194.20" font-size="2.40" fill="#4a4a4a" textLength="8.80" lengthAdjust="spacingAndGlyphs" stroke="#4a4a4a" stroke-width="0.10" xml:space="preserve">Variable</text>
<text x="135.00" y="197.30" font-size="2.40" fill="#4a4a4a" textLength="7.00" lengthAdjust="spacingAndGlyphs" stroke="#4a4a4a" stroke-width="0.10" xml:space="preserve">region</text>
<text x="132.20" y="208.20" font-size="2.40" fill="#4a4a4a" textLength="9.80" lengthAdjust="spacingAndGlyphs" stroke="#4a4a4a" stroke-width="0.10" xml:space="preserve">Constant</text>
<text x="135.00" y="211.40" font-size="2.40" fill="#4a4a4a" textLength="7.00" lengthAdjust="spacingAndGlyphs" stroke="#4a4a4a" stroke-width="0.10" xml:space="preserve">region</text>
<text x="174.50" y="190.00" font-size="2.40" fill="#4a4a4a" textLength="2.50" lengthAdjust="spacingAndGlyphs" stroke="#4a4a4a" stroke-width="0.10" xml:space="preserve">Fv</text>
<text x="174.80" y="202.60" font-size="2.40" fill="#4a4a4a" textLength="3.80" lengthAdjust="spacingAndGlyphs" stroke="#4a4a4a" stroke-width="0.10" xml:space="preserve">Fab</text>
<text x="167.30" y="212.30" font-size="2.40" fill="#4a4a4a" textLength="2.70" lengthAdjust="spacingAndGlyphs" stroke="#4a4a4a" stroke-width="0.10" xml:space="preserve">Fc</text>
<text x="157.60" y="222.60" font-size="3.10" fill="#1a1a1a" font-weight="bold" textLength="5.60" lengthAdjust="spacingAndGlyphs" stroke="#1a1a1a" stroke-width="0.22" xml:space="preserve">IgG</text>
<text x="153.30" y="227.00" font-size="2.70" fill="#3a3a3a" textLength="14.60" lengthAdjust="spacingAndGlyphs" stroke="#3a3a3a" stroke-width="0.10" xml:space="preserve">(~150 kDa)</text>
<text x="181.40" y="222.60" font-size="3.10" fill="#1a1a1a" font-weight="bold" textLength="5.60" lengthAdjust="spacingAndGlyphs" stroke="#1a1a1a" stroke-width="0.22" xml:space="preserve">Fab</text>
<text x="178.30" y="227.00" font-size="2.70" fill="#3a3a3a" textLength="12.00" lengthAdjust="spacingAndGlyphs" stroke="#3a3a3a" stroke-width="0.10" xml:space="preserve">(50 kDa)</text>
<text x="202.20" y="222.60" font-size="3.10" fill="#1a1a1a" font-weight="bold" textLength="7.20" lengthAdjust="spacingAndGlyphs" stroke="#1a1a1a" stroke-width="0.22" xml:space="preserve">scFv</text>
<text x="200.10" y="227.00" font-size="2.70" fill="#3a3a3a" textLength="12.00" lengthAdjust="spacingAndGlyphs" stroke="#3a3a3a" stroke-width="0.10" xml:space="preserve">(30 kDa)</text>
<rect x="304.3" y="199.7" width="47.4" height="5.0" fill="#7596d4"/>
<rect x="304.3" y="204.7" width="47.4" height="5.0" fill="#cfd8ee"/>
<rect x="304.3" y="209.7" width="47.4" height="5.0" fill="#e7ebf6"/>
<rect x="304.3" y="214.7" width="47.4" height="5.0" fill="#cfd8ee"/>
<rect x="304.3" y="204.50" width="47.4" height="0.4" fill="#f4f5fb"/>
<rect x="304.3" y="209.50" width="47.4" height="0.4" fill="#f4f5fb"/>
<rect x="304.3" y="214.50" width="47.4" height="0.4" fill="#f4f5fb"/>
<rect x="329.10" y="199.7" width="0.4" height="20.0" fill="#f4f5fb"/>
<text x="308.80" y="203.55" font-size="3.60" fill="#1a1a1a" font-weight="bold" textLength="16.00" lengthAdjust="spacingAndGlyphs" stroke="#1a1a1a" stroke-width="0.12" xml:space="preserve">Antibody</text>
<text x="333.80" y="203.55" font-size="3.60" fill="#1a1a1a" font-weight="bold" textLength="13.40" lengthAdjust="spacingAndGlyphs" stroke="#1a1a1a" stroke-width="0.12" xml:space="preserve">K<tspan font-size="2.23" dy="0.58">D</tspan><tspan dy="-0.58"> (nM)</tspan></text>
<text x="311.40" y="208.55" font-size="3.60" fill="#1a1a1a" textLength="10.80" lengthAdjust="spacingAndGlyphs" stroke="#1a1a1a" stroke-width="0.05" xml:space="preserve">IgG C4</text>
<text x="333.00" y="208.55" font-size="3.60" fill="#1a1a1a" textLength="15.00" lengthAdjust="spacingAndGlyphs" stroke="#1a1a1a" stroke-width="0.05" xml:space="preserve">2.6 ± 0.1</text>
<text x="311.40" y="213.55" font-size="3.60" fill="#1a1a1a" textLength="10.80" lengthAdjust="spacingAndGlyphs" stroke="#1a1a1a" stroke-width="0.05" xml:space="preserve">Fab C4</text>
<text x="336.35" y="213.55" font-size="3.60" fill="#1a1a1a" textLength="8.30" lengthAdjust="spacingAndGlyphs" stroke="#1a1a1a" stroke-width="0.05" xml:space="preserve">~ 1.6</text>
<text x="310.80" y="218.55" font-size="3.60" fill="#1a1a1a" textLength="12.00" lengthAdjust="spacingAndGlyphs" stroke="#1a1a1a" stroke-width="0.05" xml:space="preserve">scFv C4</text>
<text x="336.35" y="218.55" font-size="3.60" fill="#1a1a1a" textLength="8.30" lengthAdjust="spacingAndGlyphs" stroke="#1a1a1a" stroke-width="0.05" xml:space="preserve">~ 0.8</text>
<defs><filter id="b3" x="-30%" y="-60%" width="160%" height="220%"><feGaussianBlur stdDeviation="0.8 0.6"/></filter>
<linearGradient id="blotbg" x1="0" y1="0" x2="0" y2="1"><stop offset="0" stop-color="#c9c9c9"/><stop offset="0.55" stop-color="#bebebe"/><stop offset="0.6" stop-color="#c2c2c2"/><stop offset="1" stop-color="#b9b9b9"/></linearGradient>
<clipPath id="blotclip"><rect x="508.1" y="234.1" width="66.9" height="17.3"/></clipPath></defs>
<rect x="508.1" y="234.1" width="66.9" height="17.3" fill="url(#blotbg)"/>
<rect x="508.1" y="243.7" width="66.9" height="0.8" fill="#e4e4e4"/>
<g clip-path="url(#blotclip)"><g filter="url(#b3)">
<rect x="517.5" y="237.6" width="7.4" height="3.8" rx="1.2" fill="#0c0c0c" opacity="0.92"/>
<rect x="528.0" y="237.5" width="6.5" height="3.0" rx="1.2" fill="#0c0c0c" opacity="0.10"/>
<rect x="537.6" y="236.4" width="7.0" height="3.8" rx="1.2" fill="#0c0c0c" opacity="0.62"/>
<rect x="547.8" y="237.5" width="6.5" height="3.0" rx="1.2" fill="#0c0c0c" opacity="0.08"/>
<rect x="557.3" y="236.6" width="7.0" height="5.4" rx="1.2" fill="#0c0c0c" opacity="0.93"/>
<rect x="565.8" y="235.0" width="8.8" height="7.4" rx="1.2" fill="#0c0c0c" opacity="1.00"/>
<rect x="557.6" y="235.2" width="6.2" height="2.5" fill="#111" opacity="0.35"/>
<rect x="509.1" y="246.1" width="7.4" height="2.5" rx="0.9" fill="#0c0c0c" opacity="0.9"/>
<rect x="517.5" y="245.9" width="7.4" height="2.5" rx="0.9" fill="#0c0c0c" opacity="0.9"/>
<rect x="527.5" y="245.6" width="7.4" height="2.5" rx="0.9" fill="#0c0c0c" opacity="0.9"/>
<rect x="537.4" y="245.8" width="7.4" height="2.5" rx="0.9" fill="#0c0c0c" opacity="0.9"/>
<rect x="547.3" y="246.2" width="7.4" height="2.5" rx="0.9" fill="#0c0c0c" opacity="0.9"/>
<rect x="557.1" y="246.3" width="7.4" height="2.5" rx="0.9" fill="#0c0c0c" opacity="0.9"/>
<rect x="566.5" y="246.4" width="7.4" height="2.5" rx="0.9" fill="#0c0c0c" opacity="0.9"/>
</g></g>
<text x="576.40" y="240.30" font-size="3.00" fill="#2a2a2a" textLength="7.40" lengthAdjust="spacingAndGlyphs" stroke="#2a2a2a" stroke-width="0.10" xml:space="preserve">PD-L1</text>
<text x="576.40" y="249.00" font-size="3.00" fill="#2a2a2a" textLength="11.60" lengthAdjust="spacingAndGlyphs" stroke="#2a2a2a" stroke-width="0.10" xml:space="preserve">Tubuline</text>
<text x="511.20" y="233.00" font-size="2.60" fill="#555" textLength="7.60" lengthAdjust="spacingAndGlyphs" transform="rotate(-68 511.20 233.00)" stroke="#555" stroke-width="0.10" xml:space="preserve">A549</text>
<text x="519.60" y="233.00" font-size="2.60" fill="#555" textLength="7.60" lengthAdjust="spacingAndGlyphs" transform="rotate(-68 519.60 233.00)" stroke="#555" stroke-width="0.10" xml:space="preserve">H1975</text>
<text x="529.60" y="233.00" font-size="2.60" fill="#555" textLength="7.60" lengthAdjust="spacingAndGlyphs" transform="rotate(-68 529.60 233.00)" stroke="#555" stroke-width="0.10" xml:space="preserve">H358</text>
<text x="539.50" y="233.00" font-size="2.60" fill="#555" textLength="7.60" lengthAdjust="spacingAndGlyphs" transform="rotate(-68 539.50 233.00)" stroke="#555" stroke-width="0.10" xml:space="preserve">H1650</text>
<text x="549.40" y="233.00" font-size="2.60" fill="#555" textLength="7.60" lengthAdjust="spacingAndGlyphs" transform="rotate(-68 549.40 233.00)" stroke="#555" stroke-width="0.10" xml:space="preserve">H1299</text>
<text x="559.20" y="233.00" font-size="2.60" fill="#555" textLength="7.60" lengthAdjust="spacingAndGlyphs" transform="rotate(-68 559.20 233.00)" stroke="#555" stroke-width="0.10" xml:space="preserve">H460</text>
<text x="568.60" y="233.00" font-size="2.60" fill="#555" textLength="10.50" lengthAdjust="spacingAndGlyphs" transform="rotate(-68 568.60 233.00)" stroke="#555" stroke-width="0.10" xml:space="preserve">HEK-L1</text>
<ellipse cx="513.4" cy="227.6" rx="3.0" ry="6.2" fill="none" stroke="#e0443e" stroke-width="0.7" transform="rotate(20 513.4 227.6)"/>
<ellipse cx="522.4" cy="227.6" rx="3.0" ry="6.2" fill="none" stroke="#e0443e" stroke-width="0.7" transform="rotate(20 522.4 227.6)"/>
<path d="M616.40 215.60 V258.00 H679.30" fill="none" stroke="#1a1a1a" stroke-width="0.75"/><path d="M615.10 216.20 h1.30" stroke="#1a1a1a" stroke-width="0.75"/><path d="M615.10 230.20 h1.30" stroke="#1a1a1a" stroke-width="0.75"/><path d="M615.10 244.00 h1.30" stroke="#1a1a1a" stroke-width="0.75"/><path d="M615.10 258.00 h1.30" stroke="#1a1a1a" stroke-width="0.75"/><path d="M624.40 258.00 v1.30" stroke="#1a1a1a" stroke-width="0.75"/><path d="M636.00 258.00 v1.30" stroke="#1a1a1a" stroke-width="0.75"/><path d="M648.20 258.00 v1.30" stroke="#1a1a1a" stroke-width="0.75"/><path d="M660.00 258.00 v1.30" stroke="#1a1a1a" stroke-width="0.75"/><path d="M671.60 258.00 v1.30" stroke="#1a1a1a" stroke-width="0.75"/>
<text x="614.50" y="217.15" font-size="3.00" fill="#111" font-weight="bold" text-anchor="end" stroke="#111" stroke-width="0.22" xml:space="preserve">6</text><text x="614.50" y="231.15" font-size="3.00" fill="#111" font-weight="bold" text-anchor="end" stroke="#111" stroke-width="0.22" xml:space="preserve">4</text><text x="614.50" y="244.95" font-size="3.00" fill="#111" font-weight="bold" text-anchor="end" stroke="#111" stroke-width="0.22" xml:space="preserve">2</text><text x="614.50" y="258.95" font-size="3.00" fill="#111" font-weight="bold" text-anchor="end" stroke="#111" stroke-width="0.22" xml:space="preserve">0</text>
<text x="624.40" y="263.00" font-size="3.00" fill="#111" font-weight="bold" text-anchor="middle" stroke="#111" stroke-width="0.22" xml:space="preserve">1 h</text><text x="636.00" y="263.00" font-size="3.00" fill="#111" font-weight="bold" text-anchor="middle" stroke="#111" stroke-width="0.22" xml:space="preserve">4 h</text><text x="648.20" y="263.00" font-size="3.00" fill="#111" font-weight="bold" text-anchor="middle" stroke="#111" stroke-width="0.22" xml:space="preserve">24 h</text><text x="660.00" y="263.00" font-size="3.00" fill="#111" font-weight="bold" text-anchor="middle" stroke="#111" stroke-width="0.22" xml:space="preserve">50 h</text><text x="671.60" y="263.00" font-size="3.00" fill="#111" font-weight="bold" text-anchor="middle" stroke="#111" stroke-width="0.22" xml:space="preserve">70 h</text>
<polyline points="624.40,237.10 636.00,225.60 648.20,228.90 660.00,237.10 671.60,240.00" fill="none" stroke="#c0272d" stroke-width="1.00" stroke-linejoin="round"/><path d="M624.40 233.90 V240.30 M623.70 233.90 h1.4 M623.70 240.30 h1.4" stroke="#c0272d" stroke-width="0.5" fill="none"/><rect x="623.52" y="236.22" width="1.76" height="1.76" fill="#c0272d"/><path d="M636.00 223.40 V227.80 M635.30 223.40 h1.4 M635.30 227.80 h1.4" stroke="#c0272d" stroke-width="0.5" fill="none"/><rect x="635.12" y="224.72" width="1.76" height="1.76" fill="#c0272d"/><path d="M648.20 227.30 V230.50 M647.50 227.30 h1.4 M647.50 230.50 h1.4" stroke="#c0272d" stroke-width="0.5" fill="none"/><rect x="647.32" y="228.02" width="1.76" height="1.76" fill="#c0272d"/><path d="M660.00 233.70 V240.50 M659.30 233.70 h1.4 M659.30 240.50 h1.4" stroke="#c0272d" stroke-width="0.5" fill="none"/><rect x="659.12" y="236.22" width="1.76" height="1.76" fill="#c0272d"/><path d="M671.60 237.40 V242.60 M670.90 237.40 h1.4 M670.90 242.60 h1.4" stroke="#c0272d" stroke-width="0.5" fill="none"/><rect x="670.72" y="239.12" width="1.76" height="1.76" fill="#c0272d"/>
<polyline points="624.40,247.10 636.00,238.40 648.20,241.10 660.00,241.80 671.60,242.70" fill="none" stroke="#5b9fe6" stroke-width="1.00" stroke-linejoin="round"/><path d="M624.40 246.30 V247.90 M623.70 246.30 h1.4 M623.70 247.90 h1.4" stroke="#5b9fe6" stroke-width="0.5" fill="none"/><path d="M624.40 246.00 l1.10 1.98 h-2.20 z" fill="#5b9fe6"/><path d="M636.00 237.50 V239.30 M635.30 237.50 h1.4 M635.30 239.30 h1.4" stroke="#5b9fe6" stroke-width="0.5" fill="none"/><path d="M636.00 237.30 l1.10 1.98 h-2.20 z" fill="#5b9fe6"/><path d="M648.20 240.40 V241.80 M647.50 240.40 h1.4 M647.50 241.80 h1.4" stroke="#5b9fe6" stroke-width="0.5" fill="none"/><path d="M648.20 240.00 l1.10 1.98 h-2.20 z" fill="#5b9fe6"/><path d="M660.00 240.40 V243.20 M659.30 240.40 h1.4 M659.30 243.20 h1.4" stroke="#5b9fe6" stroke-width="0.5" fill="none"/><path d="M660.00 240.70 l1.10 1.98 h-2.20 z" fill="#5b9fe6"/><path d="M671.60 241.70 V243.70 M670.90 241.70 h1.4 M670.90 243.70 h1.4" stroke="#5b9fe6" stroke-width="0.5" fill="none"/><path d="M671.60 241.60 l1.10 1.98 h-2.20 z" fill="#5b9fe6"/>
<text x="640.80" y="210.60" font-size="4.00" fill="#111" font-weight="bold" textLength="14.00" lengthAdjust="spacingAndGlyphs" stroke="#111" stroke-width="0.24" xml:space="preserve">Fab C4</text>
<path d="M667.40 216.30 H672.40" stroke="#c0272d" stroke-width="0.7"/><rect x="669.15" y="215.55" width="1.5" height="1.5" fill="#c0272d"/><text x="674.40" y="217.40" font-size="3.20" fill="#222" textLength="9.80" lengthAdjust="spacingAndGlyphs" stroke="#222" stroke-width="0.10" xml:space="preserve">H1975</text>
<path d="M667.40 221.60 H672.40" stroke="#5b9fe6" stroke-width="0.7"/><path d="M669.90 220.70 l0.9 1.6 h-1.8 z" fill="#5b9fe6"/><text x="674.40" y="222.70" font-size="3.20" fill="#222" textLength="8.00" lengthAdjust="spacingAndGlyphs" stroke="#222" stroke-width="0.10" xml:space="preserve">A549</text>
<text x="606.90" y="252.40" font-size="3.10" fill="#1a1a1a" font-weight="bold" textLength="30.00" lengthAdjust="spacingAndGlyphs" transform="rotate(-90 606.90 252.40)" stroke="#1a1a1a" stroke-width="0.17" xml:space="preserve">Tissue associated</text>
<text x="610.90" y="259.80" font-size="3.10" fill="#1a1a1a" font-weight="bold" textLength="44.80" lengthAdjust="spacingAndGlyphs" transform="rotate(-90 610.90 259.80)" stroke="#1a1a1a" stroke-width="0.17" xml:space="preserve">activity: tumor/muscle ratio</text>
<path d="M707.90 214.80 V258.30 H737.40" fill="none" stroke="#1a1a1a" stroke-width="0.75"/><path d="M706.60 215.00 h1.30" stroke="#1a1a1a" stroke-width="0.75"/><path d="M706.60 229.40 h1.30" stroke="#1a1a1a" stroke-width="0.75"/><path d="M706.60 243.80 h1.30" stroke="#1a1a1a" stroke-width="0.75"/><path d="M706.60 258.30 h1.30" stroke="#1a1a1a" stroke-width="0.75"/><path d="M722.80 258.30 v1.30" stroke="#1a1a1a" stroke-width="0.75"/>
<text x="706.00" y="215.95" font-size="3.00" fill="#111" font-weight="bold" text-anchor="end" stroke="#111" stroke-width="0.22" xml:space="preserve">6</text><text x="706.00" y="230.35" font-size="3.00" fill="#111" font-weight="bold" text-anchor="end" stroke="#111" stroke-width="0.22" xml:space="preserve">4</text><text x="706.00" y="244.75" font-size="3.00" fill="#111" font-weight="bold" text-anchor="end" stroke="#111" stroke-width="0.22" xml:space="preserve">2</text><text x="706.00" y="259.25" font-size="3.00" fill="#111" font-weight="bold" text-anchor="end" stroke="#111" stroke-width="0.22" xml:space="preserve">0</text>
<rect x="713.1" y="224.8" width="10.0" height="33.5" fill="#9c0f14" stroke="#1a1a1a" stroke-width="0.3"/>
<rect x="723.1" y="238.2" width="9.3" height="20.1" fill="#5aa2ee" stroke="#1a1a1a" stroke-width="0.3"/>
<path d="M718.1 224.8 V221.6 M716.6 221.6 h3 M727.7 238.2 V236.4 M726.2 236.4 h3" stroke="#1a1a1a" stroke-width="0.35" fill="none"/>
<path d="M717.8 218.6 H728.2" stroke="#1a1a1a" stroke-width="0.4"/>
<text x="723.00" y="218.30" font-size="3.40" fill="#111" font-weight="bold" text-anchor="middle" stroke="#111" stroke-width="0.22" xml:space="preserve">*</text>
<text x="722.80" y="263.20" font-size="3.00" fill="#111" font-weight="bold" text-anchor="middle" stroke="#111" stroke-width="0.22" xml:space="preserve">4 h</text>
<text x="715.70" y="209.50" font-size="4.00" fill="#111" font-weight="bold" textLength="15.00" lengthAdjust="spacingAndGlyphs" stroke="#111" stroke-width="0.24" xml:space="preserve">Fab C4</text>
<rect x="734.9" y="215.5" width="5.0" height="2.6" fill="#9c0f14" stroke="#1a1a1a" stroke-width="0.25"/>
<rect x="734.9" y="220.4" width="5.0" height="2.6" fill="#5aa2ee" stroke="#1a1a1a" stroke-width="0.25"/>
<text x="741.80" y="218.00" font-size="3.20" fill="#222" textLength="10.00" lengthAdjust="spacingAndGlyphs" stroke="#222" stroke-width="0.10" xml:space="preserve">H1975</text>
<text x="741.80" y="222.90" font-size="3.20" fill="#222" textLength="8.00" lengthAdjust="spacingAndGlyphs" stroke="#222" stroke-width="0.10" xml:space="preserve">A549</text>
<text x="697.50" y="252.00" font-size="3.10" fill="#1a1a1a" font-weight="bold" textLength="30.00" lengthAdjust="spacingAndGlyphs" transform="rotate(-90 697.50 252.00)" stroke="#1a1a1a" stroke-width="0.17" xml:space="preserve">Tissue associated</text>
<text x="701.50" y="259.40" font-size="3.10" fill="#1a1a1a" font-weight="bold" textLength="44.80" lengthAdjust="spacingAndGlyphs" transform="rotate(-90 701.50 259.40)" stroke="#1a1a1a" stroke-width="0.17" xml:space="preserve">activity: tumor/muscle ratio</text>
<path d="M144.10 307.60 V354.50 H211.40" fill="none" stroke="#1a1a1a" stroke-width="0.75"/><path d="M142.80 308.20 h1.30" stroke="#1a1a1a" stroke-width="0.75"/><path d="M142.80 319.80 h1.30" stroke="#1a1a1a" stroke-width="0.75"/><path d="M142.80 331.40 h1.30" stroke="#1a1a1a" stroke-width="0.75"/><path d="M142.80 343.00 h1.30" stroke="#1a1a1a" stroke-width="0.75"/><path d="M142.80 354.50 h1.30" stroke="#1a1a1a" stroke-width="0.75"/><path d="M151.30 354.50 v1.30" stroke="#1a1a1a" stroke-width="0.75"/><path d="M162.40 354.50 v1.30" stroke="#1a1a1a" stroke-width="0.75"/><path d="M173.70 354.50 v1.30" stroke="#1a1a1a" stroke-width="0.75"/><path d="M184.40 354.50 v1.30" stroke="#1a1a1a" stroke-width="0.75"/><path d="M195.20 354.50 v1.30" stroke="#1a1a1a" stroke-width="0.75"/><path d="M206.10 354.50 v1.30" stroke="#1a1a1a" stroke-width="0.75"/>
<text x="142.20" y="309.15" font-size="3.00" fill="#111" font-weight="bold" text-anchor="end" stroke="#111" stroke-width="0.22" xml:space="preserve">2.0</text><text x="142.20" y="320.75" font-size="3.00" fill="#111" font-weight="bold" text-anchor="end" stroke="#111" stroke-width="0.22" xml:space="preserve">1.5</text><text x="142.20" y="332.35" font-size="3.00" fill="#111" font-weight="bold" text-anchor="end" stroke="#111" stroke-width="0.22" xml:space="preserve">1.0</text><text x="142.20" y="343.95" font-size="3.00" fill="#111" font-weight="bold" text-anchor="end" stroke="#111" stroke-width="0.22" xml:space="preserve">0.5</text><text x="142.20" y="355.45" font-size="3.00" fill="#111" font-weight="bold" text-anchor="end" stroke="#111" stroke-width="0.22" xml:space="preserve">0.0</text>
<text x="151.30" y="359.60" font-size="3.00" fill="#111" font-weight="bold" text-anchor="middle" stroke="#111" stroke-width="0.22" xml:space="preserve">1 h</text><text x="162.40" y="359.60" font-size="3.00" fill="#111" font-weight="bold" text-anchor="middle" stroke="#111" stroke-width="0.22" xml:space="preserve">4 h</text><text x="173.70" y="359.60" font-size="3.00" fill="#111" font-weight="bold" text-anchor="middle" stroke="#111" stroke-width="0.22" xml:space="preserve">24 h</text><text x="184.40" y="359.60" font-size="3.00" fill="#111" font-weight="bold" text-anchor="middle" stroke="#111" stroke-width="0.22" xml:space="preserve">50 h</text><text x="195.20" y="359.60" font-size="3.00" fill="#111" font-weight="bold" text-anchor="middle" stroke="#111" stroke-width="0.22" xml:space="preserve">70 h</text><text x="206.10" y="359.60" font-size="3.00" fill="#111" font-weight="bold" text-anchor="middle" stroke="#111" stroke-width="0.22" xml:space="preserve">7 d</text>
<polyline points="151.30,344.80 162.40,344.40 173.70,349.00 184.40,350.40 195.20,351.00" fill="none" stroke="#6fb2f2" stroke-width="1.00" stroke-linejoin="round"/><path d="M151.30 343.20 V346.40 M150.60 343.20 h1.4 M150.60 346.40 h1.4" stroke="#6fb2f2" stroke-width="0.5" fill="none"/><path d="M151.30 343.70 l1.10 1.98 h-2.20 z" fill="#6fb2f2"/><path d="M162.40 343.60 V345.20 M161.70 343.60 h1.4 M161.70 345.20 h1.4" stroke="#6fb2f2" stroke-width="0.5" fill="none"/><path d="M162.40 343.30 l1.10 1.98 h-2.20 z" fill="#6fb2f2"/><path d="M173.70 348.20 V349.80 M173.00 348.20 h1.4 M173.00 349.80 h1.4" stroke="#6fb2f2" stroke-width="0.5" fill="none"/><path d="M173.70 347.90 l1.10 1.98 h-2.20 z" fill="#6fb2f2"/><path d="M184.40 349.70 V351.10 M183.70 349.70 h1.4 M183.70 351.10 h1.4" stroke="#6fb2f2" stroke-width="0.5" fill="none"/><path d="M184.40 349.30 l1.10 1.98 h-2.20 z" fill="#6fb2f2"/><path d="M195.20 350.40 V351.60 M194.50 350.40 h1.4 M194.50 351.60 h1.4" stroke="#6fb2f2" stroke-width="0.5" fill="none"/><path d="M195.20 349.90 l1.10 1.98 h-2.20 z" fill="#6fb2f2"/>
<polyline points="151.30,344.40 162.40,325.10 173.70,321.70 184.40,321.00 195.20,325.60 206.10,328.60" fill="none" stroke="#423eb2" stroke-width="1.00" stroke-linejoin="round"/><path d="M151.30 343.00 V345.80 M150.60 343.00 h1.4 M150.60 345.80 h1.4" stroke="#423eb2" stroke-width="0.5" fill="none"/><path d="M151.30 343.30 l1.10 1.98 h-2.20 z" fill="#423eb2"/><path d="M162.40 321.90 V328.30 M161.70 321.90 h1.4 M161.70 328.30 h1.4" stroke="#423eb2" stroke-width="0.5" fill="none"/><path d="M162.40 324.00 l1.10 1.98 h-2.20 z" fill="#423eb2"/><path d="M173.70 319.30 V324.10 M173.00 319.30 h1.4 M173.00 324.10 h1.4" stroke="#423eb2" stroke-width="0.5" fill="none"/><path d="M173.70 320.60 l1.10 1.98 h-2.20 z" fill="#423eb2"/><path d="M184.40 318.20 V323.80 M183.70 318.20 h1.4 M183.70 323.80 h1.4" stroke="#423eb2" stroke-width="0.5" fill="none"/><path d="M184.40 319.90 l1.10 1.98 h-2.20 z" fill="#423eb2"/><path d="M195.20 322.80 V328.40 M194.50 322.80 h1.4 M194.50 328.40 h1.4" stroke="#423eb2" stroke-width="0.5" fill="none"/><path d="M195.20 324.50 l1.10 1.98 h-2.20 z" fill="#423eb2"/><path d="M206.10 328.00 V329.20 M205.40 328.00 h1.4 M205.40 329.20 h1.4" stroke="#423eb2" stroke-width="0.5" fill="none"/><path d="M206.10 327.50 l1.10 1.98 h-2.20 z" fill="#423eb2"/>
<text x="166.00" y="302.20" font-size="4.00" fill="#111" font-weight="bold" textLength="25.80" lengthAdjust="spacingAndGlyphs" stroke="#111" stroke-width="0.24" xml:space="preserve">H1975 tumor</text>
<path d="M207.10 310.80 H212.40" stroke="#423eb2" stroke-width="0.7"/><path d="M209.75 309.90 l0.9 1.6 h-1.8 z" fill="#423eb2"/><text x="215.10" y="311.90" font-size="3.20" fill="#222" textLength="11.70" lengthAdjust="spacingAndGlyphs" stroke="#222" stroke-width="0.10" xml:space="preserve">IgG C4</text>
<path d="M207.10 315.80 H212.40" stroke="#6fb2f2" stroke-width="0.7"/><path d="M209.75 314.90 l0.9 1.6 h-1.8 z" fill="#6fb2f2"/><text x="215.10" y="316.90" font-size="3.20" fill="#222" textLength="11.70" lengthAdjust="spacingAndGlyphs" stroke="#222" stroke-width="0.10" xml:space="preserve">Fab C4</text>
<text x="129.90" y="346.90" font-size="3.10" fill="#1a1a1a" font-weight="bold" textLength="30.00" lengthAdjust="spacingAndGlyphs" transform="rotate(-90 129.90 346.90)" stroke="#1a1a1a" stroke-width="0.17" xml:space="preserve">Tissue associated</text>
<text x="133.90" y="343.65" font-size="3.10" fill="#1a1a1a" font-weight="bold" textLength="23.50" lengthAdjust="spacingAndGlyphs" transform="rotate(-90 133.90 343.65)" stroke="#1a1a1a" stroke-width="0.17" xml:space="preserve">activity (SUV)</text>
<path d="M252.40 307.20 V354.50 H322.10" fill="none" stroke="#1a1a1a" stroke-width="0.75"/><path d="M251.10 307.80 h1.30" stroke="#1a1a1a" stroke-width="0.75"/><path d="M251.10 317.00 h1.30" stroke="#1a1a1a" stroke-width="0.75"/><path d="M251.10 326.30 h1.30" stroke="#1a1a1a" stroke-width="0.75"/><path d="M251.10 335.60 h1.30" stroke="#1a1a1a" stroke-width="0.75"/><path d="M251.10 345.00 h1.30" stroke="#1a1a1a" stroke-width="0.75"/><path d="M251.10 354.50 h1.30" stroke="#1a1a1a" stroke-width="0.75"/><path d="M260.10 354.50 v1.30" stroke="#1a1a1a" stroke-width="0.75"/><path d="M271.20 354.50 v1.30" stroke="#1a1a1a" stroke-width="0.75"/><path d="M282.30 354.50 v1.30" stroke="#1a1a1a" stroke-width="0.75"/><path d="M293.20 354.50 v1.30" stroke="#1a1a1a" stroke-width="0.75"/><path d="M304.50 354.50 v1.30" stroke="#1a1a1a" stroke-width="0.75"/><path d="M315.20 354.50 v1.30" stroke="#1a1a1a" stroke-width="0.75"/>
<text x="250.50" y="308.75" font-size="3.00" fill="#111" font-weight="bold" text-anchor="end" stroke="#111" stroke-width="0.22" xml:space="preserve">10</text><text x="250.50" y="317.95" font-size="3.00" fill="#111" font-weight="bold" text-anchor="end" stroke="#111" stroke-width="0.22" xml:space="preserve">8</text><text x="250.50" y="327.25" font-size="3.00" fill="#111" font-weight="bold" text-anchor="end" stroke="#111" stroke-width="0.22" xml:space="preserve">6</text><text x="250.50" y="336.55" font-size="3.00" fill="#111" font-weight="bold" text-anchor="end" stroke="#111" stroke-width="0.22" xml:space="preserve">4</text><text x="250.50" y="345.95" font-size="3.00" fill="#111" font-weight="bold" text-anchor="end" stroke="#111" stroke-width="0.22" xml:space="preserve">2</text><text x="250.50" y="355.45" font-size="3.00" fill="#111" font-weight="bold" text-anchor="end" stroke="#111" stroke-width="0.22" xml:space="preserve">0</text>
<text x="260.10" y="359.60" font-size="3.00" fill="#111" font-weight="bold" text-anchor="middle" stroke="#111" stroke-width="0.22" xml:space="preserve">1 h</text><text x="271.20" y="359.60" font-size="3.00" fill="#111" font-weight="bold" text-anchor="middle" stroke="#111" stroke-width="0.22" xml:space="preserve">4 h</text><text x="282.30" y="359.60" font-size="3.00" fill="#111" font-weight="bold" text-anchor="middle" stroke="#111" stroke-width="0.22" xml:space="preserve">24 h</text><text x="293.20" y="359.60" font-size="3.00" fill="#111" font-weight="bold" text-anchor="middle" stroke="#111" stroke-width="0.22" xml:space="preserve">50 h</text><text x="304.50" y="359.60" font-size="3.00" fill="#111" font-weight="bold" text-anchor="middle" stroke="#111" stroke-width="0.22" xml:space="preserve">70 h</text><text x="315.20" y="359.60" font-size="3.00" fill="#111" font-weight="bold" text-anchor="middle" stroke="#111" stroke-width="0.22" xml:space="preserve">7 d</text>
<polyline points="260.10,340.20 271.20,332.10 282.30,334.90 293.20,340.20 304.50,341.80" fill="none" stroke="#6fb2f2" stroke-width="1.00" stroke-linejoin="round"/><path d="M260.10 337.60 V342.80 M259.40 337.60 h1.4 M259.40 342.80 h1.4" stroke="#6fb2f2" stroke-width="0.5" fill="none"/><path d="M260.10 339.10 l1.10 1.98 h-2.20 z" fill="#6fb2f2"/><path d="M271.20 329.50 V334.70 M270.50 329.50 h1.4 M270.50 334.70 h1.4" stroke="#6fb2f2" stroke-width="0.5" fill="none"/><path d="M271.20 331.00 l1.10 1.98 h-2.20 z" fill="#6fb2f2"/><path d="M282.30 333.30 V336.50 M281.60 333.30 h1.4 M281.60 336.50 h1.4" stroke="#6fb2f2" stroke-width="0.5" fill="none"/><path d="M282.30 333.80 l1.10 1.98 h-2.20 z" fill="#6fb2f2"/><path d="M293.20 337.40 V343.00 M292.50 337.40 h1.4 M292.50 343.00 h1.4" stroke="#6fb2f2" stroke-width="0.5" fill="none"/><path d="M293.20 339.10 l1.10 1.98 h-2.20 z" fill="#6fb2f2"/><path d="M304.50 339.80 V343.80 M303.80 339.80 h1.4 M303.80 343.80 h1.4" stroke="#6fb2f2" stroke-width="0.5" fill="none"/><path d="M304.50 340.70 l1.10 1.98 h-2.20 z" fill="#6fb2f2"/>
<polyline points="260.10,346.40 271.20,335.60 282.30,325.10 293.20,315.40 304.50,322.80 315.20,323.50" fill="none" stroke="#423eb2" stroke-width="1.00" stroke-linejoin="round"/><path d="M260.10 344.80 V348.00 M259.40 344.80 h1.4 M259.40 348.00 h1.4" stroke="#423eb2" stroke-width="0.5" fill="none"/><path d="M260.10 345.30 l1.10 1.98 h-2.20 z" fill="#423eb2"/><path d="M271.20 334.60 V336.60 M270.50 334.60 h1.4 M270.50 336.60 h1.4" stroke="#423eb2" stroke-width="0.5" fill="none"/><path d="M271.20 334.50 l1.10 1.98 h-2.20 z" fill="#423eb2"/><path d="M282.30 322.90 V327.30 M281.60 322.90 h1.4 M281.60 327.30 h1.4" stroke="#423eb2" stroke-width="0.5" fill="none"/><path d="M282.30 324.00 l1.10 1.98 h-2.20 z" fill="#423eb2"/><path d="M293.20 312.80 V318.00 M292.50 312.80 h1.4 M292.50 318.00 h1.4" stroke="#423eb2" stroke-width="0.5" fill="none"/><path d="M293.20 314.30 l1.10 1.98 h-2.20 z" fill="#423eb2"/><path d="M304.50 321.40 V324.20 M303.80 321.40 h1.4 M303.80 324.20 h1.4" stroke="#423eb2" stroke-width="0.5" fill="none"/><path d="M304.50 321.70 l1.10 1.98 h-2.20 z" fill="#423eb2"/><path d="M315.20 321.50 V325.50 M314.50 321.50 h1.4 M314.50 325.50 h1.4" stroke="#423eb2" stroke-width="0.5" fill="none"/><path d="M315.20 322.40 l1.10 1.98 h-2.20 z" fill="#423eb2"/>
<text x="268.35" y="302.00" font-size="4.00" fill="#111" font-weight="bold" textLength="39.30" lengthAdjust="spacingAndGlyphs" stroke="#111" stroke-width="0.24" xml:space="preserve">Tumor:muscle ratio</text>
<path d="M324.00 309.20 H328.80" stroke="#423eb2" stroke-width="0.7"/><path d="M326.40 308.30 l0.9 1.6 h-1.8 z" fill="#423eb2"/><text x="331.50" y="310.30" font-size="3.20" fill="#222" textLength="12.10" lengthAdjust="spacingAndGlyphs" stroke="#222" stroke-width="0.10" xml:space="preserve">IgG C4</text>
<path d="M324.00 314.60 H328.80" stroke="#6fb2f2" stroke-width="0.7"/><path d="M326.40 313.70 l0.9 1.6 h-1.8 z" fill="#6fb2f2"/><text x="331.50" y="315.70" font-size="3.20" fill="#222" textLength="12.10" lengthAdjust="spacingAndGlyphs" stroke="#222" stroke-width="0.10" xml:space="preserve">Fab C4</text>
<text x="238.90" y="346.40" font-size="3.10" fill="#1a1a1a" font-weight="bold" textLength="30.00" lengthAdjust="spacingAndGlyphs" transform="rotate(-90 238.90 346.40)" stroke="#1a1a1a" stroke-width="0.17" xml:space="preserve">Tissue associated</text>
<text x="243.10" y="353.80" font-size="3.10" fill="#1a1a1a" font-weight="bold" textLength="44.80" lengthAdjust="spacingAndGlyphs" transform="rotate(-90 243.10 353.80)" stroke="#1a1a1a" stroke-width="0.17" xml:space="preserve">activity: tumor/muscle ratio</text>
<path d="M372.40 303.40 V349.40 H399.60" fill="none" stroke="#1a1a1a" stroke-width="0.75"/><path d="M371.10 304.00 h1.30" stroke="#1a1a1a" stroke-width="0.75"/><path d="M371.10 313.10 h1.30" stroke="#1a1a1a" stroke-width="0.75"/><path d="M371.10 322.20 h1.30" stroke="#1a1a1a" stroke-width="0.75"/><path d="M371.10 331.20 h1.30" stroke="#1a1a1a" stroke-width="0.75"/><path d="M371.10 340.30 h1.30" stroke="#1a1a1a" stroke-width="0.75"/><path d="M371.10 349.40 h1.30" stroke="#1a1a1a" stroke-width="0.75"/><path d="M387.30 349.40 v1.30" stroke="#1a1a1a" stroke-width="0.75"/>
<text x="370.50" y="304.95" font-size="3.00" fill="#111" font-weight="bold" text-anchor="end" stroke="#111" stroke-width="0.22" xml:space="preserve">10</text><text x="370.50" y="314.05" font-size="3.00" fill="#111" font-weight="bold" text-anchor="end" stroke="#111" stroke-width="0.22" xml:space="preserve">8</text><text x="370.50" y="323.15" font-size="3.00" fill="#111" font-weight="bold" text-anchor="end" stroke="#111" stroke-width="0.22" xml:space="preserve">6</text><text x="370.50" y="332.15" font-size="3.00" fill="#111" font-weight="bold" text-anchor="end" stroke="#111" stroke-width="0.22" xml:space="preserve">4</text><text x="370.50" y="341.25" font-size="3.00" fill="#111" font-weight="bold" text-anchor="end" stroke="#111" stroke-width="0.22" xml:space="preserve">2</text><text x="370.50" y="350.35" font-size="3.00" fill="#111" font-weight="bold" text-anchor="end" stroke="#111" stroke-width="0.22" xml:space="preserve">0</text>
<rect x="377.2" y="311.2" width="10.2" height="38.2" fill="#c25a1e" stroke="#1a1a1a" stroke-width="0.3"/>
<rect x="387.4" y="315.6" width="9.9" height="33.8" fill="#f2a541" stroke="#1a1a1a" stroke-width="0.3"/>
<path d="M382.3 311.2 V308.8 M380.8 308.8 h3 M392.2 315.8 V315.0 M390.7 315.0 h3" stroke="#1a1a1a" stroke-width="0.35" fill="none"/>
<path d="M381.8 305.9 H393.3" stroke="#1a1a1a" stroke-width="0.4"/>
<text x="387.50" y="305.60" font-size="3.20" fill="#111" font-weight="bold" text-anchor="middle" stroke="#111" stroke-width="0.22" xml:space="preserve">*</text>
<text x="381.70" y="297.70" font-size="4.00" fill="#111" font-weight="bold" textLength="14.00" lengthAdjust="spacingAndGlyphs" stroke="#111" stroke-width="0.24" xml:space="preserve">IgG C4</text>
<text x="373.45" y="353.00" font-size="2.40" fill="#111" font-weight="bold" textLength="27.50" lengthAdjust="spacingAndGlyphs" stroke="#111" stroke-width="0.22" xml:space="preserve">Tumor H1975/muscle</text>
<text x="372.45" y="359.20" font-size="2.90" fill="#111" font-weight="bold" textLength="29.50" lengthAdjust="spacingAndGlyphs" stroke="#111" stroke-width="0.22" xml:space="preserve">50 h post-injection</text>
<path d="M412.90 303.40 V349.40 H441.60" fill="none" stroke="#1a1a1a" stroke-width="0.75"/><path d="M411.60 303.90 h1.30" stroke="#1a1a1a" stroke-width="0.75"/><path d="M411.60 319.00 h1.30" stroke="#1a1a1a" stroke-width="0.75"/><path d="M411.60 334.20 h1.30" stroke="#1a1a1a" stroke-width="0.75"/><path d="M411.60 349.40 h1.30" stroke="#1a1a1a" stroke-width="0.75"/><path d="M429.00 349.40 v1.30" stroke="#1a1a1a" stroke-width="0.75"/>
<text x="411.00" y="304.85" font-size="3.00" fill="#111" font-weight="bold" text-anchor="end" stroke="#111" stroke-width="0.22" xml:space="preserve">6</text><text x="411.00" y="319.95" font-size="3.00" fill="#111" font-weight="bold" text-anchor="end" stroke="#111" stroke-width="0.22" xml:space="preserve">4</text><text x="411.00" y="335.15" font-size="3.00" fill="#111" font-weight="bold" text-anchor="end" stroke="#111" stroke-width="0.22" xml:space="preserve">2</text><text x="411.00" y="350.35" font-size="3.00" fill="#111" font-weight="bold" text-anchor="end" stroke="#111" stroke-width="0.22" xml:space="preserve">0</text>
<rect x="419.0" y="313.1" width="10.0" height="36.3" fill="#c25a1e" stroke="#1a1a1a" stroke-width="0.3"/>
<rect x="429.0" y="318.8" width="10.0" height="30.6" fill="#f2a541" stroke="#1a1a1a" stroke-width="0.3"/>
<path d="M423.8 313.3 V310.6 M422.3 310.6 h3 M434.0 318.9 V317.0 M432.5 317.0 h3" stroke="#1a1a1a" stroke-width="0.35" fill="none"/>
<path d="M423.0 307.0 H435.0" stroke="#1a1a1a" stroke-width="0.4"/>
<text x="429.00" y="306.70" font-size="3.20" fill="#111" font-weight="bold" text-anchor="middle" stroke="#111" stroke-width="0.22" xml:space="preserve">*</text>
<text x="423.30" y="297.70" font-size="4.00" fill="#111" font-weight="bold" textLength="14.00" lengthAdjust="spacingAndGlyphs" stroke="#111" stroke-width="0.24" xml:space="preserve">Fab C4</text>
<text x="415.15" y="353.00" font-size="2.40" fill="#111" font-weight="bold" textLength="27.50" lengthAdjust="spacingAndGlyphs" stroke="#111" stroke-width="0.22" xml:space="preserve">Tumor H1975/muscle</text>
<text x="415.15" y="359.20" font-size="2.90" fill="#111" font-weight="bold" textLength="27.50" lengthAdjust="spacingAndGlyphs" stroke="#111" stroke-width="0.22" xml:space="preserve">4 h post-injection</text>
<rect x="445.0" y="304.2" width="6.2" height="3.0" fill="#c25a1e" stroke="#1a1a1a" stroke-width="0.3"/>
<rect x="445.0" y="310.4" width="6.2" height="3.0" fill="#f2a541" stroke="#1a1a1a" stroke-width="0.3"/>
<text x="453.30" y="307.00" font-size="3.30" fill="#222" textLength="18.70" lengthAdjust="spacingAndGlyphs" stroke="#222" stroke-width="0.10" xml:space="preserve">No blocking</text>
<text x="453.30" y="313.00" font-size="3.30" fill="#222" textLength="13.70" lengthAdjust="spacingAndGlyphs" stroke="#222" stroke-width="0.10" xml:space="preserve">Blocking</text>
<text x="359.30" y="341.40" font-size="3.10" fill="#1a1a1a" font-weight="bold" textLength="30.00" lengthAdjust="spacingAndGlyphs" transform="rotate(-90 359.30 341.40)" stroke="#1a1a1a" stroke-width="0.17" xml:space="preserve">Tissue associated</text>
<text x="363.30" y="348.80" font-size="3.10" fill="#1a1a1a" font-weight="bold" textLength="44.80" lengthAdjust="spacingAndGlyphs" transform="rotate(-90 363.30 348.80)" stroke="#1a1a1a" stroke-width="0.17" xml:space="preserve">activity: tumor/muscle ratio</text>
<text x="27.25" y="291.20" font-size="2.30" fill="#333" font-weight="bold" textLength="25.50" lengthAdjust="spacingAndGlyphs" stroke="#333" stroke-width="0.22" xml:space="preserve">50 h post injection</text>
<text x="75.60" y="291.20" font-size="2.30" fill="#333" font-weight="bold" textLength="24.00" lengthAdjust="spacingAndGlyphs" stroke="#333" stroke-width="0.22" xml:space="preserve">4 h post injection</text>
<defs>
<filter id="pb" x="-10%" y="-10%" width="120%" height="120%"><feGaussianBlur stdDeviation="0.7"/></filter>
<filter id="pb2" x="-10%" y="-10%" width="120%" height="120%"><feGaussianBlur stdDeviation="1.1"/></filter>
<linearGradient id="jet" x1="0" y1="0" x2="0" y2="1">
<stop offset="0" stop-color="#8c0a0a"/><stop offset="0.1" stop-color="#e8201a"/><stop offset="0.3" stop-color="#f6d21c"/>
<stop offset="0.48" stop-color="#6edc3c"/><stop offset="0.62" stop-color="#22c8d8"/><stop offset="0.8" stop-color="#1c3cd0"/><stop offset="1" stop-color="#0a0a3c"/></linearGradient>
<clipPath id="cL1"><rect x="27.0" y="295.0" width="27.3" height="13.0"/></clipPath>
<clipPath id="cL2"><rect x="27.0" y="309.4" width="27.3" height="54.2"/></clipPath>
<clipPath id="cR1"><rect x="73.8" y="295.0" width="27.2" height="13.0"/></clipPath>
<clipPath id="cR2"><rect x="73.8" y="309.4" width="27.2" height="54.2"/></clipPath>
</defs>
<rect x="27.0" y="294.8" width="27.3" height="69.0" fill="#000"/>
<rect x="27.0" y="308.0" width="27.3" height="1.4" fill="#b8b8b8"/>
<rect x="73.8" y="294.8" width="27.2" height="69.0" fill="#000"/>
<rect x="73.8" y="308.0" width="27.2" height="1.4" fill="#b8b8b8"/>
<g clip-path="url(#cL1)"><g filter="url(#pb)">
<ellipse cx="40.7" cy="305.6" rx="12.4" ry="6.4" fill="#454547"/>
<ellipse cx="40.7" cy="307.8" rx="8.0" ry="3.0" fill="#252527"/>
<ellipse cx="40.7" cy="303.8" rx="9.0" ry="2.6" fill="#1d2a6a" opacity="0.55"/>
<path d="M44.2 299.2 L52.4 300.2 L52.2 303.8 Z" fill="#58d84a"/><path d="M46.6 299.8 L52.2 300.6 L52.0 303.0 Z" fill="#c8e432"/>
<ellipse cx="41.0" cy="301.4" rx="1.06" ry="0.99" fill="#1fb4dc" opacity="1.00" transform="rotate(0 41.0 301.4)"/><ellipse cx="41.0" cy="301.4" rx="0.73" ry="0.68" fill="#58d84a" opacity="1.00" transform="rotate(0 41.0 301.4)"/>
<ellipse cx="29.8" cy="306.0" rx="0.83" ry="0.77" fill="#1fb4dc" opacity="1.00" transform="rotate(0 29.8 306.0)"/>
<ellipse cx="52.2" cy="305.6" rx="0.83" ry="0.77" fill="#1fb4dc" opacity="1.00" transform="rotate(0 52.2 305.6)"/>
<ellipse cx="41.0" cy="305.4" rx="0.70" ry="0.64" fill="#1fb4dc" opacity="1.00" transform="rotate(0 41.0 305.4)"/>
</g></g>
<g clip-path="url(#cL2)"><g filter="url(#pb)">
<path d="M40.7 310.0 c4.2 0 6.4 1.6 7.0 4.6 c0.7 3.6 4.4 7.6 5.2 13.4 c0.8 6.4 0.8 12.6 -0.4 17.6 c-1.2 5.0 -4.8 8.6 -7.4 12.0 c-1.4 1.8 -2.6 6.4 -4.4 6.4 c-1.8 0 -3.0 -4.6 -4.4 -6.4 c-2.6 -3.4 -6.2 -7.0 -7.4 -12.0 c-1.2 -5.0 -1.2 -11.2 -0.4 -17.6 c0.8 -5.8 4.5 -9.8 5.2 -13.4 c0.6 -3.0 2.8 -4.6 7.0 -4.6 z" fill="#56565a"/>
<path d="M40.7 310.0 c4.2 0 6.4 1.6 7.0 4.6 c0.7 3.6 4.4 7.6 5.2 13.4 c0.8 6.4 0.8 12.6 -0.4 17.6 c-1.2 5.0 -4.8 8.6 -7.4 12.0 c-1.4 1.8 -2.6 6.4 -4.4 6.4 c-1.8 0 -3.0 -4.6 -4.4 -6.4 c-2.6 -3.4 -6.2 -7.0 -7.4 -12.0 c-1.2 -5.0 -1.2 -11.2 -0.4 -17.6 c0.8 -5.8 4.5 -9.8 5.2 -13.4 c0.6 -3.0 2.8 -4.6 7.0 -4.6 z" fill="#3c3c42" transform="translate(40.7 337) scale(0.84 0.93) translate(-40.7 -337)"/>
<ellipse cx="40.7" cy="314.2" rx="3.6" ry="3.4" fill="#5e5e62"/>
<ellipse cx="35.2" cy="354.0" rx="2.8" ry="3.6" fill="#66666a"/><ellipse cx="46.2" cy="354.0" rx="2.8" ry="3.6" fill="#66666a"/>
<ellipse cx="34.0" cy="327" rx="1.6" ry="7" fill="#5a5a60" opacity="0.7"/><ellipse cx="47.6" cy="327" rx="1.6" ry="7" fill="#5a5a60" opacity="0.7"/>
</g><g filter="url(#pb2)">
<ellipse cx="40.7" cy="333" rx="8.0" ry="15" fill="#30349a" opacity="0.6"/>
<ellipse cx="40.0" cy="328.5" rx="5.0" ry="8.4" fill="#1f9fd0" opacity="0.75"/>
<ellipse cx="46.4" cy="332" rx="3.6" ry="3.6" fill="#1f9fd0" opacity="0.7"/>
</g><g filter="url(#pb)">
<rect x="39.6" y="315" width="1.3" height="47" fill="#35c6c0" opacity="0.9"/>
<rect x="39.6" y="337.5" width="1.2" height="15.5" fill="#b4ec3a"/>
<ellipse cx="38.8" cy="327.6" rx="3.6" ry="6.2" fill="#58d84a" transform="rotate(-6 38.8 327.6)"/>
<ellipse cx="39.4" cy="326.8" rx="2.0" ry="4.0" fill="#f4dc22"/>
<ellipse cx="39.5" cy="326.6" rx="1.2" ry="2.8" fill="#ee4a1c"/>
<ellipse cx="46.3" cy="331.6" rx="2.38" ry="2.21" fill="#1fb4dc" opacity="1.00" transform="rotate(0 46.3 331.6)"/><ellipse cx="46.3" cy="331.6" rx="1.86" ry="1.73" fill="#58d84a" opacity="1.00" transform="rotate(0 46.3 331.6)"/><ellipse cx="46.3" cy="331.6" rx="1.33" ry="1.24" fill="#f4dc22" opacity="1.00" transform="rotate(0 46.3 331.6)"/>
<ellipse cx="48.0" cy="347.5" rx="2.95" ry="2.71" fill="#1fb4dc" opacity="1.00" transform="rotate(0 48.0 347.5)"/><ellipse cx="48.0" cy="347.5" rx="2.30" ry="2.11" fill="#58d84a" opacity="1.00" transform="rotate(0 48.0 347.5)"/><ellipse cx="48.0" cy="347.5" rx="1.66" ry="1.52" fill="#f4dc22" opacity="1.00" transform="rotate(0 48.0 347.5)"/>
<ellipse cx="32.5" cy="345.0" rx="1.37" ry="1.29" fill="#1fb4dc" opacity="1.00" transform="rotate(0 32.5 345.0)"/><ellipse cx="32.5" cy="345.0" rx="0.94" ry="0.88" fill="#58d84a" opacity="1.00" transform="rotate(0 32.5 345.0)"/>
<ellipse cx="34.6" cy="312.8" rx="1.09" ry="0.96" fill="#1fb4dc" opacity="1.00" transform="rotate(0 34.6 312.8)"/>
<ellipse cx="44.5" cy="312.0" rx="1.09" ry="0.96" fill="#1fb4dc" opacity="1.00" transform="rotate(0 44.5 312.0)"/>
<ellipse cx="37.2" cy="310.4" rx="0.77" ry="0.64" fill="#1fb4dc" opacity="1.00" transform="rotate(0 37.2 310.4)"/>
<ellipse cx="40.3" cy="319.6" rx="1.22" ry="1.67" fill="#1fb4dc" opacity="1.00" transform="rotate(0 40.3 319.6)"/><ellipse cx="40.3" cy="319.6" rx="0.83" ry="1.14" fill="#58d84a" opacity="1.00" transform="rotate(0 40.3 319.6)"/>
<ellipse cx="40.2" cy="357.0" rx="0.77" ry="1.54" fill="#1fb4dc" opacity="1.00" transform="rotate(0 40.2 357.0)"/>
</g></g>
<g clip-path="url(#cR1)"><g filter="url(#pb)">
<path d="M76.6 301.0 c2.0 -3.6 6.0 -5.0 10.0 -4.6 c4.4 0.4 8.4 2.6 10.2 5.8 c1.0 1.8 0.4 3.8 -1.8 4.8 c-3.0 1.2 -9.4 1.6 -13.4 0.8 c-3.6 -0.8 -6.2 -3.6 -5.0 -6.8 z" fill="#2a3048"/>
<ellipse cx="82.0" cy="301.6" rx="4.6" ry="3.6" fill="#2245b8" opacity="0.9"/>
<ellipse cx="89.6" cy="304.2" rx="5.6" ry="3.4" fill="#1fb4dc" opacity="0.8"/>
<ellipse cx="90.0" cy="304.6" rx="3.9" ry="2.4" fill="#58d84a"/>
<ellipse cx="90.2" cy="304.7" rx="3.1" ry="1.8" fill="#f4dc22"/>
<ellipse cx="90.4" cy="304.8" rx="2.3" ry="1.2" fill="#e8241c"/>
<ellipse cx="80.0" cy="297.6" rx="0.64" ry="0.58" fill="#1fb4dc" opacity="1.00" transform="rotate(0 80.0 297.6)"/>
<ellipse cx="84.6" cy="297.0" rx="0.58" ry="0.51" fill="#1fb4dc" opacity="1.00" transform="rotate(0 84.6 297.0)"/>
</g></g>
<g clip-path="url(#cR2)"><g filter="url(#pb)">
<path d="M80.6 310.6 c4.6 -1.0 8.8 0.6 10.6 4.4 c1.8 3.8 1.2 8.8 2.0 13.6 c0.8 5.0 2.6 9.6 2.6 14.6 c0 5.4 -2.2 10.4 -5.0 14.4 c-2.0 2.8 -3.6 6.0 -5.6 6.0 c-2.4 0 -3.4 -3.4 -4.4 -6.6 c-1.6 -5.0 -3.4 -10.4 -4.0 -16.0 c-0.6 -5.6 -0.8 -11.4 -0.2 -17.0 c0.5 -4.6 0.6 -12.6 4.0 -13.4 z" fill="#3a3c48"/>
</g><g filter="url(#pb2)">
<ellipse cx="84.6" cy="332" rx="7.6" ry="14.5" fill="#1f36a8" opacity="0.9" transform="rotate(-12 84.6 332)"/>
<ellipse cx="84.6" cy="331" rx="5.8" ry="11.6" fill="#1fb4dc" opacity="0.85" transform="rotate(-14 84.6 331)"/>
</g><g filter="url(#pb)">
<ellipse cx="84.5" cy="330.6" rx="5.0" ry="10.6" fill="#58d84a" transform="rotate(-14 84.5 330.6)"/>
<ellipse cx="82.4" cy="325.2" rx="4.2" ry="3.7" fill="#f4dc22"/>
<ellipse cx="86.2" cy="334.6" rx="3.8" ry="7.6" fill="#f4dc22" transform="rotate(-12 86.2 334.6)"/>
<ellipse cx="82.4" cy="325.2" rx="3.2" ry="2.7" fill="#e8241c"/>
<ellipse cx="86.2" cy="334.6" rx="2.9" ry="6.5" fill="#e8241c" transform="rotate(-12 86.2 334.6)"/>
<ellipse cx="93.0" cy="347.0" rx="3.0" ry="3.0" fill="#4a86e6" opacity="0.9"/>
<ellipse cx="86.0" cy="352.8" rx="1.02" ry="1.15" fill="#1fb4dc" opacity="1.00" transform="rotate(0 86.0 352.8)"/>
</g></g>
<rect x="55.9" y="298.2" width="6.6" height="23.6" fill="#fafafa" opacity="0.8"/>
<rect x="56.4" y="300.0" width="2.5" height="19.5" fill="url(#jet)"/>
<text x="56.80" y="299.30" font-size="1.60" fill="#444" textLength="7.00" lengthAdjust="spacingAndGlyphs" stroke="#444" stroke-width="0.10" xml:space="preserve">12 %ID/cc</text>
<text x="56.60" y="321.80" font-size="1.60" fill="#444" textLength="7.40" lengthAdjust="spacingAndGlyphs" stroke="#444" stroke-width="0.10" xml:space="preserve">0.5 %ID/cc</text>
<rect x="102.4" y="298.2" width="6.6" height="23.6" fill="#fafafa" opacity="0.8"/>
<rect x="102.9" y="300.0" width="2.5" height="19.5" fill="url(#jet)"/>
<text x="103.30" y="299.30" font-size="1.60" fill="#444" textLength="7.00" lengthAdjust="spacingAndGlyphs" stroke="#444" stroke-width="0.10" xml:space="preserve">12 %ID/cc</text>
<text x="103.10" y="321.80" font-size="1.60" fill="#444" textLength="7.40" lengthAdjust="spacingAndGlyphs" stroke="#444" stroke-width="0.10" xml:space="preserve">0.5 %ID/cc</text>
<text x="25.60" y="306.50" font-size="1.90" fill="#444" textLength="10.00" lengthAdjust="spacingAndGlyphs" transform="rotate(-90 25.60 306.50)" stroke="#444" stroke-width="0.10" xml:space="preserve">transverse</text>
<text x="25.60" y="340.00" font-size="1.90" fill="#444" textLength="8.00" lengthAdjust="spacingAndGlyphs" transform="rotate(-90 25.60 340.00)" stroke="#444" stroke-width="0.10" xml:space="preserve">coronal</text>
<text x="72.40" y="306.50" font-size="1.90" fill="#444" textLength="10.00" lengthAdjust="spacingAndGlyphs" transform="rotate(-90 72.40 306.50)" stroke="#444" stroke-width="0.10" xml:space="preserve">transverse</text>
<text x="72.40" y="340.00" font-size="1.90" fill="#444" textLength="8.00" lengthAdjust="spacingAndGlyphs" transform="rotate(-90 72.40 340.00)" stroke="#444" stroke-width="0.10" xml:space="preserve">sagittal</text>
</svg></div></body></html>
